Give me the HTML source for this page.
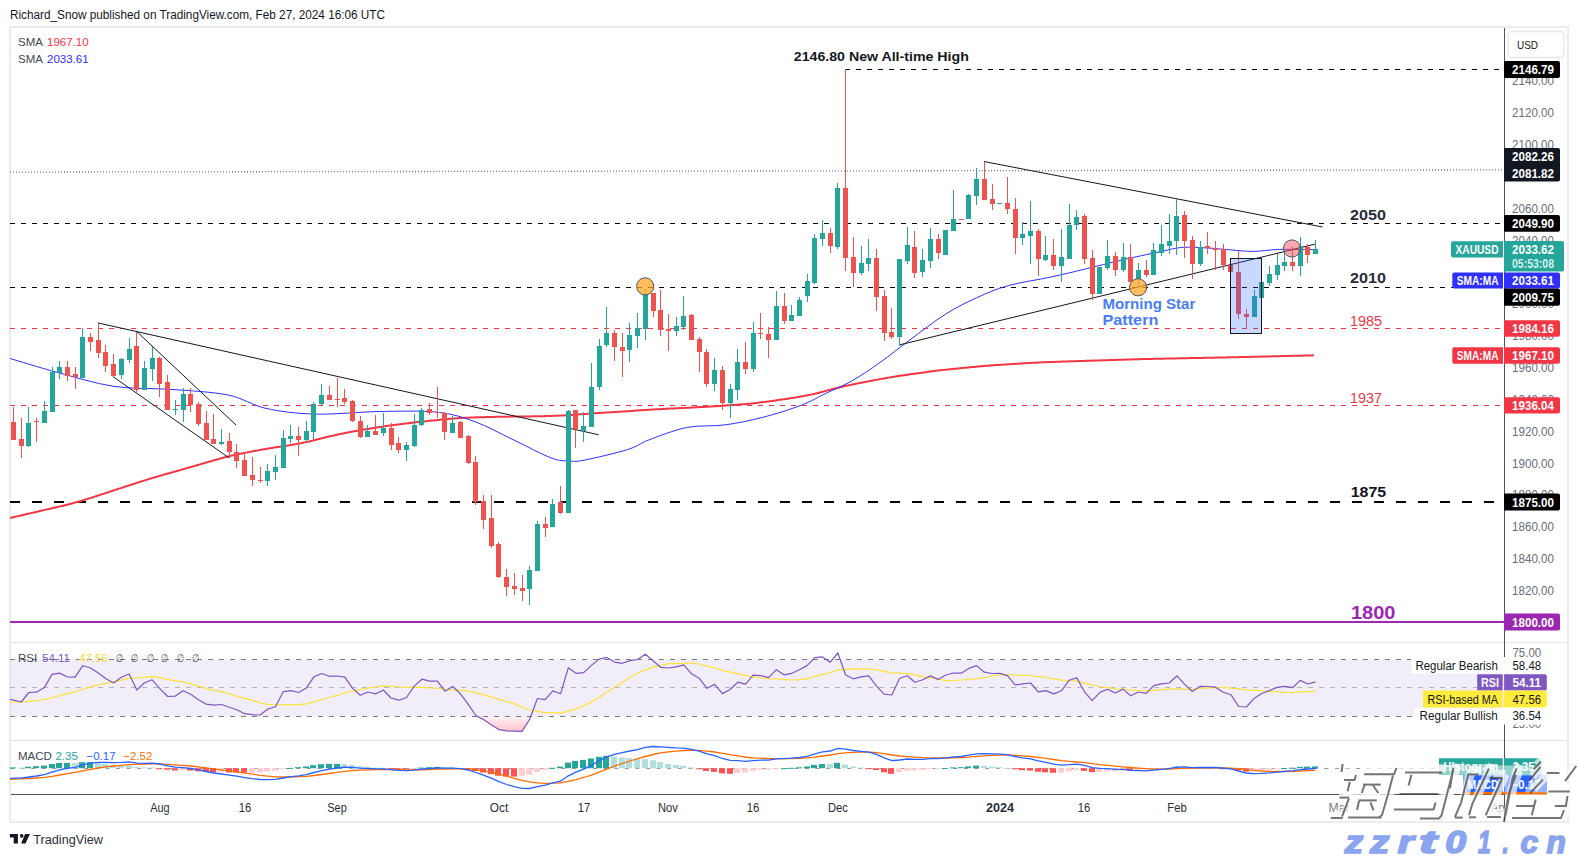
<!DOCTYPE html>
<html><head><meta charset="utf-8"><style>
html,body{margin:0;padding:0;background:#fff;width:1578px;height:857px;overflow:hidden}
svg{display:block;font-family:"Liberation Sans", sans-serif}
</style></head><body>
<svg width="1578" height="857" viewBox="0 0 1578 857">
<rect width="1578" height="857" fill="#fff"/>
<rect x="10" y="27" width="1558" height="795" fill="none" stroke="#eaecf1" stroke-width="2"/>
<text x="10" y="19" font-size="12.5" fill="#131722" font-weight="normal" text-anchor="start" textLength="375" lengthAdjust="spacingAndGlyphs">Richard_Snow published on TradingView.com, Feb 27, 2024 16:06 UTC</text>
<line x1="11" y1="642.5" x2="1567" y2="642.5" stroke="#e0e3eb" stroke-width="1"/>
<line x1="11" y1="740.5" x2="1567" y2="740.5" stroke="#e0e3eb" stroke-width="1"/>
<line x1="11" y1="794.5" x2="1504" y2="794.5" stroke="#50535e" stroke-width="1"/>
<defs><clipPath id="mp"><rect x="10" y="28" width="1494" height="614"/></clipPath><clipPath id="rp"><rect x="10" y="643" width="1494" height="97"/></clipPath><clipPath id="mc"><rect x="10" y="741" width="1494" height="53"/></clipPath><linearGradient id="os" x1="0" y1="0" x2="0" y2="1"><stop offset="0" stop-color="#ff1744" stop-opacity="0.05"/><stop offset="1" stop-color="#ff1744" stop-opacity="0.27"/></linearGradient></defs>
<g clip-path="url(#mp)">
<line x1="10" y1="172.1" x2="1504" y2="169.9" stroke="#787b86" stroke-width="1.3" stroke-dasharray="1 2"/>
<line x1="10" y1="223.5" x2="1504" y2="223.5" stroke="#000000" stroke-width="1" stroke-dasharray="5 6"/>
<line x1="10" y1="287.5" x2="1504" y2="287.5" stroke="#000000" stroke-width="1" stroke-dasharray="5 6"/>
<line x1="10" y1="328.5" x2="1504" y2="328.5" stroke="#f23645" stroke-width="1" stroke-dasharray="5 6"/>
<line x1="10" y1="405.5" x2="1504" y2="405.5" stroke="#f23645" stroke-width="1" stroke-dasharray="5 6"/>
<line x1="10" y1="502" x2="1504" y2="502" stroke="#000000" stroke-width="2" stroke-dasharray="10 12"/>
<line x1="10" y1="622" x2="1504" y2="622" stroke="#9c27b0" stroke-width="2"/>
<line x1="845" y1="69.5" x2="1504" y2="69.5" stroke="#000000" stroke-width="1" stroke-dasharray="5 6"/>
<path d="M10.0,518.00 L12.0,517.54 L14.0,517.07 L16.0,516.61 L18.0,516.15 L20.0,515.68 L22.0,515.22 L24.0,514.75 L26.0,514.29 L28.0,513.83 L30.0,513.36 L32.0,512.90 L34.0,512.44 L36.0,511.97 L38.0,511.51 L40.0,511.05 L42.0,510.58 L44.0,510.12 L46.0,509.65 L48.0,509.19 L50.0,508.73 L52.0,508.26 L54.0,507.80 L56.0,507.33 L58.0,506.86 L60.0,506.39 L62.0,505.91 L64.0,505.43 L66.0,504.94 L68.0,504.44 L70.0,503.93 L72.0,503.41 L74.0,502.88 L76.0,502.33 L78.0,501.76 L80.0,501.18 L82.0,500.59 L84.0,499.98 L86.0,499.37 L88.0,498.74 L90.0,498.11 L92.0,497.47 L94.0,496.83 L96.0,496.18 L98.0,495.53 L100.0,494.88 L102.0,494.23 L104.0,493.58 L106.0,492.93 L108.0,492.28 L110.0,491.63 L112.0,490.98 L114.0,490.32 L116.0,489.67 L118.0,489.02 L120.0,488.37 L122.0,487.72 L124.0,487.07 L126.0,486.42 L128.0,485.77 L130.0,485.12 L132.0,484.47 L134.0,483.82 L136.0,483.17 L138.0,482.53 L140.0,481.89 L142.0,481.26 L144.0,480.62 L146.0,480.00 L148.0,479.38 L150.0,478.77 L152.0,478.16 L154.0,477.56 L156.0,476.97 L158.0,476.38 L160.0,475.80 L162.0,475.22 L164.0,474.65 L166.0,474.08 L168.0,473.51 L170.0,472.94 L172.0,472.37 L174.0,471.80 L176.0,471.23 L178.0,470.67 L180.0,470.10 L182.0,469.53 L184.0,468.96 L186.0,468.39 L188.0,467.81 L190.0,467.24 L192.0,466.67 L194.0,466.09 L196.0,465.51 L198.0,464.94 L200.0,464.36 L202.0,463.78 L204.0,463.20 L206.0,462.62 L208.0,462.04 L210.0,461.46 L212.0,460.89 L214.0,460.32 L216.0,459.75 L218.0,459.19 L220.0,458.63 L222.0,458.09 L224.0,457.56 L226.0,457.04 L228.0,456.54 L230.0,456.05 L232.0,455.58 L234.0,455.12 L236.0,454.68 L238.0,454.25 L240.0,453.84 L242.0,453.43 L244.0,453.03 L246.0,452.64 L248.0,452.25 L250.0,451.86 L252.0,451.48 L254.0,451.10 L256.0,450.73 L258.0,450.36 L260.0,449.99 L262.0,449.63 L264.0,449.27 L266.0,448.92 L268.0,448.58 L270.0,448.24 L272.0,447.92 L274.0,447.59 L276.0,447.28 L278.0,446.97 L280.0,446.67 L282.0,446.37 L284.0,446.06 L286.0,445.76 L288.0,445.45 L290.0,445.13 L292.0,444.81 L294.0,444.47 L296.0,444.12 L298.0,443.75 L300.0,443.37 L302.0,442.97 L304.0,442.55 L306.0,442.12 L308.0,441.67 L310.0,441.21 L312.0,440.73 L314.0,440.25 L316.0,439.77 L318.0,439.28 L320.0,438.79 L322.0,438.29 L324.0,437.80 L326.0,437.31 L328.0,436.82 L330.0,436.34 L332.0,435.87 L334.0,435.41 L336.0,434.95 L338.0,434.51 L340.0,434.08 L342.0,433.66 L344.0,433.25 L346.0,432.85 L348.0,432.47 L350.0,432.09 L352.0,431.72 L354.0,431.35 L356.0,430.99 L358.0,430.64 L360.0,430.28 L362.0,429.93 L364.0,429.59 L366.0,429.24 L368.0,428.90 L370.0,428.56 L372.0,428.23 L374.0,427.90 L376.0,427.58 L378.0,427.27 L380.0,426.97 L382.0,426.67 L384.0,426.38 L386.0,426.10 L388.0,425.83 L390.0,425.56 L392.0,425.30 L394.0,425.04 L396.0,424.78 L398.0,424.53 L400.0,424.27 L402.0,424.02 L404.0,423.77 L406.0,423.53 L408.0,423.28 L410.0,423.04 L412.0,422.80 L414.0,422.56 L416.0,422.33 L418.0,422.10 L420.0,421.87 L422.0,421.65 L424.0,421.43 L426.0,421.22 L428.0,421.01 L430.0,420.80 L432.0,420.59 L434.0,420.39 L436.0,420.19 L438.0,419.99 L440.0,419.79 L442.0,419.60 L444.0,419.40 L446.0,419.21 L448.0,419.03 L450.0,418.85 L452.0,418.68 L454.0,418.51 L456.0,418.36 L458.0,418.21 L460.0,418.08 L462.0,417.96 L464.0,417.85 L466.0,417.75 L468.0,417.66 L470.0,417.58 L472.0,417.50 L474.0,417.43 L476.0,417.36 L478.0,417.30 L480.0,417.24 L482.0,417.19 L484.0,417.13 L486.0,417.08 L488.0,417.02 L490.0,416.97 L492.0,416.92 L494.0,416.88 L496.0,416.83 L498.0,416.79 L500.0,416.75 L502.0,416.72 L504.0,416.69 L506.0,416.66 L508.0,416.63 L510.0,416.61 L512.0,416.58 L514.0,416.56 L516.0,416.54 L518.0,416.52 L520.0,416.50 L522.0,416.47 L524.0,416.45 L526.0,416.43 L528.0,416.41 L530.0,416.39 L532.0,416.36 L534.0,416.33 L536.0,416.30 L538.0,416.27 L540.0,416.24 L542.0,416.20 L544.0,416.16 L546.0,416.11 L548.0,416.06 L550.0,416.00 L552.0,415.94 L554.0,415.87 L556.0,415.79 L558.0,415.71 L560.0,415.61 L562.0,415.51 L564.0,415.40 L566.0,415.28 L568.0,415.15 L570.0,415.02 L572.0,414.89 L574.0,414.75 L576.0,414.60 L578.0,414.46 L580.0,414.32 L582.0,414.17 L584.0,414.03 L586.0,413.89 L588.0,413.75 L590.0,413.61 L592.0,413.48 L594.0,413.35 L596.0,413.22 L598.0,413.09 L600.0,412.96 L602.0,412.84 L604.0,412.72 L606.0,412.59 L608.0,412.47 L610.0,412.35 L612.0,412.23 L614.0,412.10 L616.0,411.97 L618.0,411.85 L620.0,411.72 L622.0,411.58 L624.0,411.45 L626.0,411.31 L628.0,411.17 L630.0,411.04 L632.0,410.90 L634.0,410.76 L636.0,410.62 L638.0,410.49 L640.0,410.35 L642.0,410.22 L644.0,410.09 L646.0,409.96 L648.0,409.84 L650.0,409.71 L652.0,409.59 L654.0,409.47 L656.0,409.36 L658.0,409.25 L660.0,409.13 L662.0,409.02 L664.0,408.92 L666.0,408.81 L668.0,408.71 L670.0,408.60 L672.0,408.50 L674.0,408.40 L676.0,408.31 L678.0,408.21 L680.0,408.11 L682.0,408.02 L684.0,407.92 L686.0,407.83 L688.0,407.73 L690.0,407.63 L692.0,407.53 L694.0,407.43 L696.0,407.33 L698.0,407.22 L700.0,407.12 L702.0,407.00 L704.0,406.89 L706.0,406.77 L708.0,406.65 L710.0,406.52 L712.0,406.40 L714.0,406.27 L716.0,406.14 L718.0,406.01 L720.0,405.88 L722.0,405.75 L724.0,405.61 L726.0,405.48 L728.0,405.35 L730.0,405.21 L732.0,405.08 L734.0,404.94 L736.0,404.80 L738.0,404.65 L740.0,404.50 L742.0,404.35 L744.0,404.18 L746.0,404.01 L748.0,403.82 L750.0,403.63 L752.0,403.42 L754.0,403.21 L756.0,402.98 L758.0,402.75 L760.0,402.50 L762.0,402.25 L764.0,402.00 L766.0,401.74 L768.0,401.47 L770.0,401.21 L772.0,400.94 L774.0,400.67 L776.0,400.39 L778.0,400.11 L780.0,399.83 L782.0,399.55 L784.0,399.26 L786.0,398.96 L788.0,398.66 L790.0,398.35 L792.0,398.04 L794.0,397.72 L796.0,397.39 L798.0,397.06 L800.0,396.71 L802.0,396.35 L804.0,395.99 L806.0,395.60 L808.0,395.21 L810.0,394.79 L812.0,394.36 L814.0,393.91 L816.0,393.44 L818.0,392.95 L820.0,392.45 L822.0,391.93 L824.0,391.40 L826.0,390.87 L828.0,390.33 L830.0,389.79 L832.0,389.26 L834.0,388.73 L836.0,388.22 L838.0,387.71 L840.0,387.22 L842.0,386.75 L844.0,386.29 L846.0,385.84 L848.0,385.41 L850.0,384.98 L852.0,384.57 L854.0,384.16 L856.0,383.76 L858.0,383.37 L860.0,382.97 L862.0,382.58 L864.0,382.19 L866.0,381.81 L868.0,381.42 L870.0,381.03 L872.0,380.65 L874.0,380.27 L876.0,379.89 L878.0,379.51 L880.0,379.14 L882.0,378.77 L884.0,378.41 L886.0,378.05 L888.0,377.70 L890.0,377.37 L892.0,377.04 L894.0,376.71 L896.0,376.40 L898.0,376.09 L900.0,375.79 L902.0,375.50 L904.0,375.21 L906.0,374.92 L908.0,374.64 L910.0,374.36 L912.0,374.08 L914.0,373.80 L916.0,373.52 L918.0,373.24 L920.0,372.96 L922.0,372.68 L924.0,372.41 L926.0,372.14 L928.0,371.86 L930.0,371.60 L932.0,371.33 L934.0,371.07 L936.0,370.82 L938.0,370.57 L940.0,370.33 L942.0,370.10 L944.0,369.87 L946.0,369.65 L948.0,369.44 L950.0,369.23 L952.0,369.02 L954.0,368.82 L956.0,368.63 L958.0,368.43 L960.0,368.24 L962.0,368.04 L964.0,367.85 L966.0,367.66 L968.0,367.47 L970.0,367.28 L972.0,367.09 L974.0,366.90 L976.0,366.71 L978.0,366.52 L980.0,366.34 L982.0,366.16 L984.0,365.99 L986.0,365.82 L988.0,365.65 L990.0,365.49 L992.0,365.34 L994.0,365.19 L996.0,365.04 L998.0,364.91 L1000.0,364.77 L1002.0,364.64 L1004.0,364.51 L1006.0,364.39 L1008.0,364.27 L1010.0,364.14 L1012.0,364.02 L1014.0,363.90 L1016.0,363.78 L1018.0,363.66 L1020.0,363.54 L1022.0,363.43 L1024.0,363.31 L1026.0,363.19 L1028.0,363.08 L1030.0,362.97 L1032.0,362.85 L1034.0,362.75 L1036.0,362.64 L1038.0,362.54 L1040.0,362.45 L1042.0,362.36 L1044.0,362.27 L1046.0,362.19 L1048.0,362.11 L1050.0,362.03 L1052.0,361.96 L1054.0,361.89 L1056.0,361.82 L1058.0,361.76 L1060.0,361.69 L1062.0,361.62 L1064.0,361.56 L1066.0,361.50 L1068.0,361.43 L1070.0,361.37 L1072.0,361.30 L1074.0,361.24 L1076.0,361.18 L1078.0,361.11 L1080.0,361.05 L1082.0,360.98 L1084.0,360.92 L1086.0,360.86 L1088.0,360.79 L1090.0,360.73 L1092.0,360.66 L1094.0,360.60 L1096.0,360.54 L1098.0,360.47 L1100.0,360.41 L1102.0,360.35 L1104.0,360.28 L1106.0,360.22 L1108.0,360.15 L1110.0,360.09 L1112.0,360.03 L1114.0,359.96 L1116.0,359.90 L1118.0,359.83 L1120.0,359.77 L1122.0,359.71 L1124.0,359.65 L1126.0,359.58 L1128.0,359.52 L1130.0,359.46 L1132.0,359.40 L1134.0,359.34 L1136.0,359.28 L1138.0,359.23 L1140.0,359.17 L1142.0,359.12 L1144.0,359.07 L1146.0,359.02 L1148.0,358.98 L1150.0,358.93 L1152.0,358.89 L1154.0,358.85 L1156.0,358.80 L1158.0,358.76 L1160.0,358.72 L1162.0,358.68 L1164.0,358.64 L1166.0,358.60 L1168.0,358.56 L1170.0,358.52 L1172.0,358.48 L1174.0,358.44 L1176.0,358.40 L1178.0,358.36 L1180.0,358.32 L1182.0,358.28 L1184.0,358.24 L1186.0,358.20 L1188.0,358.16 L1190.0,358.12 L1192.0,358.08 L1194.0,358.04 L1196.0,358.00 L1198.0,357.96 L1200.0,357.92 L1202.0,357.88 L1204.0,357.85 L1206.0,357.81 L1208.0,357.77 L1210.0,357.73 L1212.0,357.69 L1214.0,357.65 L1216.0,357.61 L1218.0,357.57 L1220.0,357.53 L1222.0,357.49 L1224.0,357.45 L1226.0,357.41 L1228.0,357.37 L1230.0,357.32 L1232.0,357.28 L1234.0,357.24 L1236.0,357.20 L1238.0,357.16 L1240.0,357.11 L1242.0,357.07 L1244.0,357.02 L1246.0,356.98 L1248.0,356.93 L1250.0,356.89 L1252.0,356.84 L1254.0,356.79 L1256.0,356.74 L1258.0,356.70 L1260.0,356.65 L1262.0,356.60 L1264.0,356.55 L1266.0,356.50 L1268.0,356.45 L1270.0,356.41 L1272.0,356.36 L1274.0,356.31 L1276.0,356.26 L1278.0,356.21 L1280.0,356.16 L1282.0,356.12 L1284.0,356.07 L1286.0,356.02 L1288.0,355.97 L1290.0,355.92 L1292.0,355.87 L1294.0,355.82 L1296.0,355.78 L1298.0,355.73 L1300.0,355.68 L1302.0,355.63 L1304.0,355.58 L1306.0,355.53 L1308.0,355.48 L1310.0,355.44 L1312.0,355.39 L1314.0,355.34" fill="none" stroke="#f23645" stroke-width="2"/>
<path d="M9.5,358.3 C17.4,360.6 39.6,367.6 57.0,372.3 C74.4,377.0 95.0,383.5 114.0,386.4 C133.0,389.2 152.0,388.0 171.0,389.4 C190.0,390.8 212.2,391.8 228.0,395.0 C243.8,398.2 251.4,405.2 266.0,408.4 C280.6,411.6 296.6,413.6 315.6,414.1 C334.6,414.6 359.8,411.8 380.0,411.5 C400.2,411.2 421.2,410.5 437.0,412.2 C452.8,413.9 462.3,417.1 475.0,421.7 C487.7,426.3 500.3,433.6 513.0,439.6 C525.7,445.6 541.5,454.3 551.0,457.9 C560.5,461.5 564.3,460.6 570.0,461.0 C575.7,461.4 575.4,461.9 585.0,460.0 C594.6,458.1 616.9,452.9 627.5,449.6 C638.1,446.3 638.8,443.7 648.7,440.0 C658.6,436.3 674.0,430.0 686.7,427.5 C699.4,425.0 712.1,426.6 724.8,424.9 C737.5,423.2 750.1,420.6 762.8,417.3 C775.5,414.1 790.2,409.4 800.8,405.4 C811.4,401.4 817.8,397.2 826.2,393.2 C834.7,389.1 842.5,386.2 851.5,381.1 C860.5,376.0 870.3,369.4 880.0,362.5 C889.7,355.6 898.9,348.1 909.8,340.0 C920.7,331.9 934.4,321.2 945.6,314.1 C956.8,307.0 966.5,302.4 977.0,297.6 C987.5,292.9 995.9,289.0 1008.3,285.6 C1020.6,282.2 1038.3,279.8 1051.1,277.0 C1063.9,274.2 1073.4,271.9 1085.3,269.0 C1097.2,266.1 1110.1,262.8 1122.4,259.9 C1134.8,257.0 1149.4,254.0 1159.4,251.9 C1169.4,249.8 1174.2,248.1 1182.3,247.4 C1190.4,246.8 1199.8,247.6 1207.9,248.0 C1216.0,248.4 1223.1,249.3 1230.7,249.9 C1238.3,250.5 1245.4,251.5 1253.5,251.4 C1261.6,251.3 1268.7,249.7 1279.2,249.4 C1289.7,249.1 1310.1,249.6 1316.3,249.6" fill="none" stroke="#2f2fff" stroke-width="1"/>
<line x1="97.8" y1="322.9" x2="598.7" y2="434.8" stroke="#131722" stroke-width="1"/>
<line x1="136.7" y1="331.5" x2="236.2" y2="425.2" stroke="#131722" stroke-width="1"/>
<line x1="112.7" y1="376.4" x2="228.8" y2="457.7" stroke="#131722" stroke-width="1"/>
<line x1="983.9" y1="161.5" x2="1322.5" y2="227" stroke="#131722" stroke-width="1"/>
<line x1="899.4" y1="344.9" x2="1314.8" y2="244.2" stroke="#131722" stroke-width="1"/>
<rect x="13" y="407" width="1" height="33" fill="#ef5350"/>
<rect x="11" y="422" width="5" height="18" fill="#ef5350"/>
<rect x="21" y="418" width="1" height="40" fill="#ef5350"/>
<rect x="19" y="439" width="5" height="7" fill="#ef5350"/>
<rect x="28" y="407" width="1" height="40" fill="#26a69a"/>
<rect x="26" y="423" width="5" height="23" fill="#26a69a"/>
<rect x="36" y="418" width="1" height="24" fill="#ef5350"/>
<rect x="34" y="421" width="5" height="1" fill="#ef5350"/>
<rect x="44" y="401" width="1" height="22" fill="#26a69a"/>
<rect x="42" y="411" width="5" height="12" fill="#26a69a"/>
<rect x="52" y="367" width="1" height="45" fill="#26a69a"/>
<rect x="50" y="372" width="5" height="40" fill="#26a69a"/>
<rect x="59" y="361" width="1" height="18" fill="#26a69a"/>
<rect x="57" y="367" width="5" height="6" fill="#26a69a"/>
<rect x="67" y="361" width="1" height="20" fill="#ef5350"/>
<rect x="65" y="367" width="5" height="9" fill="#ef5350"/>
<rect x="75" y="367" width="1" height="22" fill="#ef5350"/>
<rect x="73" y="374" width="5" height="3" fill="#ef5350"/>
<rect x="82" y="328" width="1" height="50" fill="#26a69a"/>
<rect x="80" y="337" width="5" height="41" fill="#26a69a"/>
<rect x="90" y="333" width="1" height="18" fill="#ef5350"/>
<rect x="88" y="337" width="5" height="5" fill="#ef5350"/>
<rect x="98" y="323" width="1" height="35" fill="#ef5350"/>
<rect x="96" y="340" width="5" height="13" fill="#ef5350"/>
<rect x="105" y="345" width="1" height="27" fill="#ef5350"/>
<rect x="103" y="352" width="5" height="14" fill="#ef5350"/>
<rect x="113" y="354" width="1" height="22" fill="#ef5350"/>
<rect x="111" y="364" width="5" height="12" fill="#ef5350"/>
<rect x="121" y="358" width="1" height="21" fill="#26a69a"/>
<rect x="119" y="359" width="5" height="16" fill="#26a69a"/>
<rect x="129" y="338" width="1" height="25" fill="#26a69a"/>
<rect x="127" y="349" width="5" height="11" fill="#26a69a"/>
<rect x="136" y="332" width="1" height="61" fill="#ef5350"/>
<rect x="134" y="346" width="5" height="44" fill="#ef5350"/>
<rect x="144" y="361" width="1" height="29" fill="#26a69a"/>
<rect x="142" y="368" width="5" height="22" fill="#26a69a"/>
<rect x="152" y="347" width="1" height="34" fill="#26a69a"/>
<rect x="150" y="358" width="5" height="11" fill="#26a69a"/>
<rect x="159" y="357" width="1" height="40" fill="#ef5350"/>
<rect x="157" y="358" width="5" height="26" fill="#ef5350"/>
<rect x="167" y="375" width="1" height="35" fill="#ef5350"/>
<rect x="165" y="382" width="5" height="28" fill="#ef5350"/>
<rect x="175" y="400" width="1" height="15" fill="#26a69a"/>
<rect x="173" y="409" width="5" height="1" fill="#26a69a"/>
<rect x="183" y="388" width="1" height="34" fill="#26a69a"/>
<rect x="181" y="394" width="5" height="16" fill="#26a69a"/>
<rect x="190" y="388" width="1" height="24" fill="#ef5350"/>
<rect x="188" y="394" width="5" height="11" fill="#ef5350"/>
<rect x="198" y="402" width="1" height="24" fill="#ef5350"/>
<rect x="196" y="404" width="5" height="20" fill="#ef5350"/>
<rect x="206" y="411" width="1" height="29" fill="#ef5350"/>
<rect x="204" y="423" width="5" height="17" fill="#ef5350"/>
<rect x="213" y="414" width="1" height="30" fill="#ef5350"/>
<rect x="211" y="439" width="5" height="5" fill="#ef5350"/>
<rect x="221" y="429" width="1" height="16" fill="#26a69a"/>
<rect x="219" y="442" width="5" height="2" fill="#26a69a"/>
<rect x="229" y="433" width="1" height="25" fill="#ef5350"/>
<rect x="227" y="441" width="5" height="11" fill="#ef5350"/>
<rect x="236" y="444" width="1" height="24" fill="#ef5350"/>
<rect x="234" y="452" width="5" height="9" fill="#ef5350"/>
<rect x="244" y="452" width="1" height="24" fill="#ef5350"/>
<rect x="242" y="460" width="5" height="16" fill="#ef5350"/>
<rect x="252" y="457" width="1" height="29" fill="#ef5350"/>
<rect x="250" y="475" width="5" height="5" fill="#ef5350"/>
<rect x="260" y="467" width="1" height="16" fill="#ef5350"/>
<rect x="258" y="480" width="5" height="1" fill="#ef5350"/>
<rect x="267" y="464" width="1" height="22" fill="#26a69a"/>
<rect x="265" y="471" width="5" height="10" fill="#26a69a"/>
<rect x="275" y="455" width="1" height="25" fill="#26a69a"/>
<rect x="273" y="467" width="5" height="5" fill="#26a69a"/>
<rect x="283" y="430" width="1" height="38" fill="#26a69a"/>
<rect x="281" y="438" width="5" height="30" fill="#26a69a"/>
<rect x="290" y="425" width="1" height="18" fill="#26a69a"/>
<rect x="288" y="436" width="5" height="3" fill="#26a69a"/>
<rect x="298" y="427" width="1" height="29" fill="#ef5350"/>
<rect x="296" y="436" width="5" height="4" fill="#ef5350"/>
<rect x="306" y="421" width="1" height="21" fill="#26a69a"/>
<rect x="304" y="431" width="5" height="9" fill="#26a69a"/>
<rect x="313" y="402" width="1" height="37" fill="#26a69a"/>
<rect x="311" y="404" width="5" height="28" fill="#26a69a"/>
<rect x="321" y="384" width="1" height="21" fill="#26a69a"/>
<rect x="319" y="395" width="5" height="9" fill="#26a69a"/>
<rect x="329" y="386" width="1" height="14" fill="#ef5350"/>
<rect x="327" y="395" width="5" height="5" fill="#ef5350"/>
<rect x="337" y="378" width="1" height="29" fill="#ef5350"/>
<rect x="335" y="399" width="5" height="1" fill="#ef5350"/>
<rect x="344" y="389" width="1" height="15" fill="#ef5350"/>
<rect x="342" y="398" width="5" height="4" fill="#ef5350"/>
<rect x="352" y="400" width="1" height="22" fill="#ef5350"/>
<rect x="350" y="401" width="5" height="20" fill="#ef5350"/>
<rect x="360" y="416" width="1" height="22" fill="#ef5350"/>
<rect x="358" y="421" width="5" height="16" fill="#ef5350"/>
<rect x="367" y="425" width="1" height="12" fill="#26a69a"/>
<rect x="365" y="431" width="5" height="6" fill="#26a69a"/>
<rect x="375" y="415" width="1" height="20" fill="#ef5350"/>
<rect x="373" y="431" width="5" height="4" fill="#ef5350"/>
<rect x="383" y="413" width="1" height="23" fill="#26a69a"/>
<rect x="381" y="428" width="5" height="5" fill="#26a69a"/>
<rect x="391" y="423" width="1" height="27" fill="#ef5350"/>
<rect x="389" y="428" width="5" height="17" fill="#ef5350"/>
<rect x="398" y="437" width="1" height="16" fill="#ef5350"/>
<rect x="396" y="443" width="5" height="7" fill="#ef5350"/>
<rect x="406" y="442" width="1" height="19" fill="#26a69a"/>
<rect x="404" y="445" width="5" height="5" fill="#26a69a"/>
<rect x="414" y="414" width="1" height="33" fill="#26a69a"/>
<rect x="412" y="425" width="5" height="21" fill="#26a69a"/>
<rect x="421" y="408" width="1" height="18" fill="#26a69a"/>
<rect x="419" y="410" width="5" height="15" fill="#26a69a"/>
<rect x="429" y="403" width="1" height="12" fill="#ef5350"/>
<rect x="427" y="409" width="5" height="4" fill="#ef5350"/>
<rect x="437" y="387" width="1" height="31" fill="#ef5350"/>
<rect x="435" y="412" width="5" height="1" fill="#ef5350"/>
<rect x="444" y="412" width="1" height="28" fill="#ef5350"/>
<rect x="442" y="413" width="5" height="19" fill="#ef5350"/>
<rect x="452" y="416" width="1" height="17" fill="#26a69a"/>
<rect x="450" y="423" width="5" height="10" fill="#26a69a"/>
<rect x="460" y="421" width="1" height="17" fill="#ef5350"/>
<rect x="458" y="422" width="5" height="16" fill="#ef5350"/>
<rect x="468" y="435" width="1" height="29" fill="#ef5350"/>
<rect x="466" y="436" width="5" height="27" fill="#ef5350"/>
<rect x="475" y="456" width="1" height="49" fill="#ef5350"/>
<rect x="473" y="462" width="5" height="40" fill="#ef5350"/>
<rect x="483" y="495" width="1" height="34" fill="#ef5350"/>
<rect x="481" y="501" width="5" height="19" fill="#ef5350"/>
<rect x="491" y="495" width="1" height="53" fill="#ef5350"/>
<rect x="489" y="518" width="5" height="28" fill="#ef5350"/>
<rect x="498" y="542" width="1" height="36" fill="#ef5350"/>
<rect x="496" y="544" width="5" height="33" fill="#ef5350"/>
<rect x="506" y="569" width="1" height="27" fill="#ef5350"/>
<rect x="504" y="577" width="5" height="10" fill="#ef5350"/>
<rect x="514" y="573" width="1" height="22" fill="#ef5350"/>
<rect x="512" y="586" width="5" height="3" fill="#ef5350"/>
<rect x="522" y="575" width="1" height="26" fill="#ef5350"/>
<rect x="520" y="588" width="5" height="3" fill="#ef5350"/>
<rect x="529" y="566" width="1" height="39" fill="#26a69a"/>
<rect x="527" y="570" width="5" height="19" fill="#26a69a"/>
<rect x="537" y="521" width="1" height="50" fill="#26a69a"/>
<rect x="535" y="524" width="5" height="47" fill="#26a69a"/>
<rect x="545" y="517" width="1" height="20" fill="#ef5350"/>
<rect x="543" y="524" width="5" height="4" fill="#ef5350"/>
<rect x="552" y="499" width="1" height="28" fill="#26a69a"/>
<rect x="550" y="504" width="5" height="23" fill="#26a69a"/>
<rect x="560" y="486" width="1" height="28" fill="#ef5350"/>
<rect x="558" y="502" width="5" height="11" fill="#ef5350"/>
<rect x="568" y="410" width="1" height="103" fill="#26a69a"/>
<rect x="566" y="411" width="5" height="102" fill="#26a69a"/>
<rect x="575" y="410" width="1" height="38" fill="#ef5350"/>
<rect x="573" y="410" width="5" height="19" fill="#ef5350"/>
<rect x="583" y="412" width="1" height="30" fill="#26a69a"/>
<rect x="581" y="426" width="5" height="5" fill="#26a69a"/>
<rect x="591" y="363" width="1" height="64" fill="#26a69a"/>
<rect x="589" y="387" width="5" height="40" fill="#26a69a"/>
<rect x="599" y="339" width="1" height="51" fill="#26a69a"/>
<rect x="597" y="346" width="5" height="41" fill="#26a69a"/>
<rect x="606" y="307" width="1" height="40" fill="#26a69a"/>
<rect x="604" y="333" width="5" height="12" fill="#26a69a"/>
<rect x="614" y="330" width="1" height="31" fill="#ef5350"/>
<rect x="612" y="333" width="5" height="14" fill="#ef5350"/>
<rect x="622" y="333" width="1" height="44" fill="#ef5350"/>
<rect x="620" y="347" width="5" height="4" fill="#ef5350"/>
<rect x="629" y="323" width="1" height="39" fill="#26a69a"/>
<rect x="627" y="335" width="5" height="15" fill="#26a69a"/>
<rect x="637" y="313" width="1" height="35" fill="#26a69a"/>
<rect x="635" y="328" width="5" height="8" fill="#26a69a"/>
<rect x="645" y="289" width="1" height="51" fill="#26a69a"/>
<rect x="643" y="294" width="5" height="35" fill="#26a69a"/>
<rect x="653" y="293" width="1" height="24" fill="#ef5350"/>
<rect x="651" y="293" width="5" height="18" fill="#ef5350"/>
<rect x="660" y="290" width="1" height="46" fill="#ef5350"/>
<rect x="658" y="310" width="5" height="20" fill="#ef5350"/>
<rect x="668" y="314" width="1" height="37" fill="#ef5350"/>
<rect x="666" y="329" width="5" height="2" fill="#ef5350"/>
<rect x="676" y="317" width="1" height="19" fill="#26a69a"/>
<rect x="674" y="326" width="5" height="5" fill="#26a69a"/>
<rect x="683" y="296" width="1" height="34" fill="#26a69a"/>
<rect x="681" y="316" width="5" height="11" fill="#26a69a"/>
<rect x="691" y="314" width="1" height="26" fill="#ef5350"/>
<rect x="689" y="315" width="5" height="25" fill="#ef5350"/>
<rect x="699" y="337" width="1" height="35" fill="#ef5350"/>
<rect x="697" y="339" width="5" height="13" fill="#ef5350"/>
<rect x="706" y="349" width="1" height="38" fill="#ef5350"/>
<rect x="704" y="352" width="5" height="32" fill="#ef5350"/>
<rect x="714" y="358" width="1" height="33" fill="#26a69a"/>
<rect x="712" y="370" width="5" height="14" fill="#26a69a"/>
<rect x="722" y="366" width="1" height="44" fill="#ef5350"/>
<rect x="720" y="370" width="5" height="33" fill="#ef5350"/>
<rect x="730" y="384" width="1" height="34" fill="#26a69a"/>
<rect x="728" y="389" width="5" height="14" fill="#26a69a"/>
<rect x="737" y="349" width="1" height="51" fill="#26a69a"/>
<rect x="735" y="362" width="5" height="28" fill="#26a69a"/>
<rect x="745" y="342" width="1" height="32" fill="#ef5350"/>
<rect x="743" y="362" width="5" height="7" fill="#ef5350"/>
<rect x="753" y="322" width="1" height="50" fill="#26a69a"/>
<rect x="751" y="333" width="5" height="36" fill="#26a69a"/>
<rect x="760" y="313" width="1" height="26" fill="#ef5350"/>
<rect x="758" y="333" width="5" height="1" fill="#ef5350"/>
<rect x="768" y="327" width="1" height="31" fill="#ef5350"/>
<rect x="766" y="334" width="5" height="6" fill="#ef5350"/>
<rect x="776" y="291" width="1" height="49" fill="#26a69a"/>
<rect x="774" y="306" width="5" height="34" fill="#26a69a"/>
<rect x="784" y="293" width="1" height="31" fill="#ef5350"/>
<rect x="782" y="306" width="5" height="15" fill="#ef5350"/>
<rect x="791" y="305" width="1" height="16" fill="#26a69a"/>
<rect x="789" y="315" width="5" height="6" fill="#26a69a"/>
<rect x="799" y="297" width="1" height="19" fill="#26a69a"/>
<rect x="797" y="300" width="5" height="16" fill="#26a69a"/>
<rect x="807" y="274" width="1" height="28" fill="#26a69a"/>
<rect x="805" y="281" width="5" height="15" fill="#26a69a"/>
<rect x="814" y="234" width="1" height="50" fill="#26a69a"/>
<rect x="812" y="238" width="5" height="45" fill="#26a69a"/>
<rect x="822" y="220" width="1" height="26" fill="#26a69a"/>
<rect x="820" y="233" width="5" height="6" fill="#26a69a"/>
<rect x="830" y="228" width="1" height="25" fill="#ef5350"/>
<rect x="828" y="233" width="5" height="13" fill="#ef5350"/>
<rect x="837" y="183" width="1" height="66" fill="#26a69a"/>
<rect x="835" y="188" width="5" height="59" fill="#26a69a"/>
<rect x="845" y="69" width="1" height="202" fill="#ef5350"/>
<rect x="843" y="188" width="5" height="70" fill="#ef5350"/>
<rect x="853" y="237" width="1" height="50" fill="#ef5350"/>
<rect x="851" y="257" width="5" height="16" fill="#ef5350"/>
<rect x="861" y="246" width="1" height="29" fill="#26a69a"/>
<rect x="859" y="263" width="5" height="10" fill="#26a69a"/>
<rect x="868" y="239" width="1" height="32" fill="#26a69a"/>
<rect x="866" y="258" width="5" height="6" fill="#26a69a"/>
<rect x="876" y="249" width="1" height="62" fill="#ef5350"/>
<rect x="874" y="258" width="5" height="39" fill="#ef5350"/>
<rect x="884" y="290" width="1" height="51" fill="#ef5350"/>
<rect x="882" y="296" width="5" height="37" fill="#ef5350"/>
<rect x="891" y="308" width="1" height="31" fill="#ef5350"/>
<rect x="889" y="332" width="5" height="5" fill="#ef5350"/>
<rect x="899" y="259" width="1" height="87" fill="#26a69a"/>
<rect x="897" y="259" width="5" height="78" fill="#26a69a"/>
<rect x="907" y="227" width="1" height="37" fill="#26a69a"/>
<rect x="905" y="245" width="5" height="16" fill="#26a69a"/>
<rect x="914" y="231" width="1" height="47" fill="#ef5350"/>
<rect x="912" y="247" width="5" height="26" fill="#ef5350"/>
<rect x="922" y="249" width="1" height="28" fill="#26a69a"/>
<rect x="920" y="260" width="5" height="12" fill="#26a69a"/>
<rect x="930" y="228" width="1" height="40" fill="#26a69a"/>
<rect x="928" y="239" width="5" height="22" fill="#26a69a"/>
<rect x="938" y="234" width="1" height="25" fill="#ef5350"/>
<rect x="936" y="239" width="5" height="14" fill="#ef5350"/>
<rect x="945" y="230" width="1" height="25" fill="#26a69a"/>
<rect x="943" y="230" width="5" height="25" fill="#26a69a"/>
<rect x="953" y="190" width="1" height="41" fill="#26a69a"/>
<rect x="951" y="219" width="5" height="12" fill="#26a69a"/>
<rect x="961" y="219" width="1" height="1" fill="#ef5350"/>
<rect x="959" y="219" width="5" height="1" fill="#ef5350"/>
<rect x="968" y="194" width="1" height="25" fill="#26a69a"/>
<rect x="966" y="195" width="5" height="24" fill="#26a69a"/>
<rect x="976" y="168" width="1" height="37" fill="#26a69a"/>
<rect x="974" y="179" width="5" height="17" fill="#26a69a"/>
<rect x="984" y="162" width="1" height="38" fill="#ef5350"/>
<rect x="982" y="179" width="5" height="21" fill="#ef5350"/>
<rect x="992" y="184" width="1" height="26" fill="#ef5350"/>
<rect x="990" y="199" width="5" height="5" fill="#ef5350"/>
<rect x="999" y="203" width="1" height="1" fill="#26a69a"/>
<rect x="997" y="203" width="5" height="1" fill="#26a69a"/>
<rect x="1007" y="177" width="1" height="37" fill="#ef5350"/>
<rect x="1005" y="203" width="5" height="6" fill="#ef5350"/>
<rect x="1015" y="198" width="1" height="56" fill="#ef5350"/>
<rect x="1013" y="209" width="5" height="29" fill="#ef5350"/>
<rect x="1022" y="222" width="1" height="23" fill="#26a69a"/>
<rect x="1020" y="234" width="5" height="4" fill="#26a69a"/>
<rect x="1030" y="201" width="1" height="63" fill="#26a69a"/>
<rect x="1028" y="231" width="5" height="5" fill="#26a69a"/>
<rect x="1038" y="229" width="1" height="47" fill="#ef5350"/>
<rect x="1036" y="231" width="5" height="28" fill="#ef5350"/>
<rect x="1045" y="236" width="1" height="25" fill="#26a69a"/>
<rect x="1043" y="255" width="5" height="5" fill="#26a69a"/>
<rect x="1053" y="239" width="1" height="31" fill="#ef5350"/>
<rect x="1051" y="255" width="5" height="11" fill="#ef5350"/>
<rect x="1061" y="229" width="1" height="53" fill="#26a69a"/>
<rect x="1059" y="257" width="5" height="9" fill="#26a69a"/>
<rect x="1069" y="204" width="1" height="55" fill="#26a69a"/>
<rect x="1067" y="225" width="5" height="34" fill="#26a69a"/>
<rect x="1076" y="210" width="1" height="20" fill="#26a69a"/>
<rect x="1074" y="217" width="5" height="8" fill="#26a69a"/>
<rect x="1084" y="214" width="1" height="50" fill="#ef5350"/>
<rect x="1082" y="216" width="5" height="43" fill="#ef5350"/>
<rect x="1092" y="250" width="1" height="50" fill="#ef5350"/>
<rect x="1090" y="258" width="5" height="36" fill="#ef5350"/>
<rect x="1099" y="267" width="1" height="27" fill="#26a69a"/>
<rect x="1097" y="267" width="5" height="27" fill="#26a69a"/>
<rect x="1107" y="240" width="1" height="30" fill="#26a69a"/>
<rect x="1105" y="256" width="5" height="12" fill="#26a69a"/>
<rect x="1115" y="252" width="1" height="24" fill="#ef5350"/>
<rect x="1113" y="256" width="5" height="14" fill="#ef5350"/>
<rect x="1123" y="243" width="1" height="29" fill="#26a69a"/>
<rect x="1121" y="257" width="5" height="13" fill="#26a69a"/>
<rect x="1130" y="244" width="1" height="38" fill="#ef5350"/>
<rect x="1128" y="257" width="5" height="25" fill="#ef5350"/>
<rect x="1138" y="263" width="1" height="24" fill="#26a69a"/>
<rect x="1136" y="270" width="5" height="9" fill="#26a69a"/>
<rect x="1146" y="260" width="1" height="17" fill="#ef5350"/>
<rect x="1144" y="270" width="5" height="5" fill="#ef5350"/>
<rect x="1153" y="243" width="1" height="32" fill="#26a69a"/>
<rect x="1151" y="250" width="5" height="25" fill="#26a69a"/>
<rect x="1161" y="225" width="1" height="31" fill="#26a69a"/>
<rect x="1159" y="244" width="5" height="9" fill="#26a69a"/>
<rect x="1169" y="214" width="1" height="40" fill="#26a69a"/>
<rect x="1167" y="241" width="5" height="5" fill="#26a69a"/>
<rect x="1176" y="199" width="1" height="56" fill="#26a69a"/>
<rect x="1174" y="216" width="5" height="25" fill="#26a69a"/>
<rect x="1184" y="211" width="1" height="47" fill="#ef5350"/>
<rect x="1182" y="215" width="5" height="26" fill="#ef5350"/>
<rect x="1192" y="236" width="1" height="43" fill="#ef5350"/>
<rect x="1190" y="240" width="5" height="24" fill="#ef5350"/>
<rect x="1200" y="241" width="1" height="25" fill="#26a69a"/>
<rect x="1198" y="247" width="5" height="17" fill="#26a69a"/>
<rect x="1207" y="232" width="1" height="22" fill="#ef5350"/>
<rect x="1205" y="246" width="5" height="2" fill="#ef5350"/>
<rect x="1215" y="241" width="1" height="29" fill="#ef5350"/>
<rect x="1213" y="248" width="5" height="2" fill="#ef5350"/>
<rect x="1223" y="244" width="1" height="26" fill="#ef5350"/>
<rect x="1221" y="249" width="5" height="16" fill="#ef5350"/>
<rect x="1230" y="264" width="1" height="8" fill="#ef5350"/>
<rect x="1228" y="265" width="5" height="7" fill="#ef5350"/>
<rect x="1238" y="251" width="1" height="68" fill="#ef5350"/>
<rect x="1236" y="272" width="5" height="42" fill="#ef5350"/>
<rect x="1246" y="309" width="1" height="19" fill="#ef5350"/>
<rect x="1244" y="314" width="5" height="3" fill="#ef5350"/>
<rect x="1254" y="290" width="1" height="27" fill="#26a69a"/>
<rect x="1252" y="296" width="5" height="21" fill="#26a69a"/>
<rect x="1261" y="282" width="1" height="16" fill="#26a69a"/>
<rect x="1259" y="282" width="5" height="16" fill="#26a69a"/>
<rect x="1269" y="266" width="1" height="20" fill="#26a69a"/>
<rect x="1267" y="274" width="5" height="9" fill="#26a69a"/>
<rect x="1277" y="254" width="1" height="26" fill="#26a69a"/>
<rect x="1275" y="265" width="5" height="10" fill="#26a69a"/>
<rect x="1284" y="250" width="1" height="21" fill="#26a69a"/>
<rect x="1282" y="262" width="5" height="4" fill="#26a69a"/>
<rect x="1292" y="247" width="1" height="24" fill="#ef5350"/>
<rect x="1290" y="262" width="5" height="4" fill="#ef5350"/>
<rect x="1300" y="237" width="1" height="39" fill="#26a69a"/>
<rect x="1298" y="246" width="5" height="20" fill="#26a69a"/>
<rect x="1307" y="244" width="1" height="19" fill="#ef5350"/>
<rect x="1305" y="247" width="5" height="8" fill="#ef5350"/>
<rect x="1315" y="240" width="1" height="14" fill="#26a69a"/>
<rect x="1313" y="249" width="5" height="5" fill="#26a69a"/>
<rect x="1230.5" y="258.5" width="31" height="75" fill="#2962ff" fill-opacity="0.25" stroke="#131722" stroke-width="1"/>
<circle cx="645.2" cy="286.4" r="8.6" fill="#ffa726" fill-opacity="0.75" stroke="#50535e" stroke-width="1"/>
<circle cx="1138.1" cy="287.3" r="8.6" fill="#ffa726" fill-opacity="0.75" stroke="#50535e" stroke-width="1"/>
<circle cx="1292" cy="248.5" r="8.6" fill="#f7525f" fill-opacity="0.5" stroke="#50535e" stroke-width="1"/>
<text x="793.8" y="61" font-size="13" fill="#131722" font-weight="bold" text-anchor="start" textLength="175" lengthAdjust="spacingAndGlyphs">2146.80 New All-time High</text>
<text x="1102.4" y="309" font-size="14" fill="#4a7cf7" font-weight="bold" text-anchor="start" textLength="93" lengthAdjust="spacingAndGlyphs">Morning Star</text>
<text x="1102.4" y="324.5" font-size="14" fill="#4a7cf7" font-weight="bold" text-anchor="start" textLength="56" lengthAdjust="spacingAndGlyphs">Pattern</text>
<text x="1350.1" y="220" font-size="14" fill="#2a2e39" font-weight="bold" text-anchor="start" textLength="36" lengthAdjust="spacingAndGlyphs">2050</text>
<text x="1350.1" y="283" font-size="14" fill="#2a2e39" font-weight="bold" text-anchor="start" textLength="36" lengthAdjust="spacingAndGlyphs">2010</text>
<text x="1350" y="325.7" font-size="14" fill="#f23645" font-weight="normal" text-anchor="start" textLength="32" lengthAdjust="spacingAndGlyphs">1985</text>
<text x="1350" y="403" font-size="14" fill="#f23645" font-weight="normal" text-anchor="start" textLength="32" lengthAdjust="spacingAndGlyphs">1937</text>
<text x="1350.7" y="497" font-size="14" fill="#131722" font-weight="bold" text-anchor="start" textLength="35.5" lengthAdjust="spacingAndGlyphs">1875</text>
<text x="1351" y="618.6" font-size="19" fill="#9c27b0" font-weight="bold" text-anchor="start" textLength="44.5" lengthAdjust="spacingAndGlyphs">1800</text>
</g>
<text x="18" y="46" font-size="11.5" fill="#434651" font-weight="normal" text-anchor="start">SMA</text>
<text x="47" y="46" font-size="11.5" fill="#f23645" font-weight="normal" text-anchor="start">1967.10</text>
<text x="18" y="63" font-size="11.5" fill="#434651" font-weight="normal" text-anchor="start">SMA</text>
<text x="47" y="63" font-size="11.5" fill="#2f2fff" font-weight="normal" text-anchor="start">2033.61</text>
<line x1="1504.5" y1="28" x2="1504.5" y2="657" stroke="#50535e" stroke-width="1"/>
<line x1="1504.5" y1="724" x2="1504.5" y2="821" stroke="#50535e" stroke-width="1"/>
<rect x="1508" y="31.5" width="56" height="26" rx="4" fill="#fff" stroke="#e6e8ee" stroke-width="1.3"/>
<text x="1517" y="49" font-size="11.5" fill="#131722" font-weight="normal" text-anchor="start" textLength="21" lengthAdjust="spacingAndGlyphs">USD</text>
<text x="1512" y="84.5" font-size="12" fill="#6a6d78" font-weight="normal" text-anchor="start" textLength="42" lengthAdjust="spacingAndGlyphs">2140.00</text>
<text x="1512" y="116.5" font-size="12" fill="#6a6d78" font-weight="normal" text-anchor="start" textLength="42" lengthAdjust="spacingAndGlyphs">2120.00</text>
<text x="1512" y="148.5" font-size="12" fill="#6a6d78" font-weight="normal" text-anchor="start" textLength="42" lengthAdjust="spacingAndGlyphs">2100.00</text>
<text x="1512" y="212.5" font-size="12" fill="#6a6d78" font-weight="normal" text-anchor="start" textLength="42" lengthAdjust="spacingAndGlyphs">2060.00</text>
<text x="1512" y="244.5" font-size="12" fill="#6a6d78" font-weight="normal" text-anchor="start" textLength="42" lengthAdjust="spacingAndGlyphs">2040.00</text>
<text x="1512" y="307.5" font-size="12" fill="#6a6d78" font-weight="normal" text-anchor="start" textLength="42" lengthAdjust="spacingAndGlyphs">2000.00</text>
<text x="1512" y="339.5" font-size="12" fill="#6a6d78" font-weight="normal" text-anchor="start" textLength="42" lengthAdjust="spacingAndGlyphs">1980.00</text>
<text x="1512" y="371.5" font-size="12" fill="#6a6d78" font-weight="normal" text-anchor="start" textLength="42" lengthAdjust="spacingAndGlyphs">1960.00</text>
<text x="1512" y="403.5" font-size="12" fill="#6a6d78" font-weight="normal" text-anchor="start" textLength="42" lengthAdjust="spacingAndGlyphs">1940.00</text>
<text x="1512" y="435.5" font-size="12" fill="#6a6d78" font-weight="normal" text-anchor="start" textLength="42" lengthAdjust="spacingAndGlyphs">1920.00</text>
<text x="1512" y="467.5" font-size="12" fill="#6a6d78" font-weight="normal" text-anchor="start" textLength="42" lengthAdjust="spacingAndGlyphs">1900.00</text>
<text x="1512" y="498.5" font-size="12" fill="#6a6d78" font-weight="normal" text-anchor="start" textLength="42" lengthAdjust="spacingAndGlyphs">1880.00</text>
<text x="1512" y="530.5" font-size="12" fill="#6a6d78" font-weight="normal" text-anchor="start" textLength="42" lengthAdjust="spacingAndGlyphs">1860.00</text>
<text x="1512" y="562.5" font-size="12" fill="#6a6d78" font-weight="normal" text-anchor="start" textLength="42" lengthAdjust="spacingAndGlyphs">1840.00</text>
<text x="1512" y="594.5" font-size="12" fill="#6a6d78" font-weight="normal" text-anchor="start" textLength="42" lengthAdjust="spacingAndGlyphs">1820.00</text>
<path d="M1504,61 H1558 Q1560,61 1560,63 V76 Q1560,78 1558,78 H1504 Z" fill="#000000"/>
<text x="1512" y="74" font-size="12" fill="#fff" font-weight="bold" text-anchor="start" textLength="42" lengthAdjust="spacingAndGlyphs">2146.79</text>
<path d="M1504,148 H1558 Q1560,148 1560,150 V179.5 Q1560,181.5 1558,181.5 H1504 Z" fill="#131722"/>
<text x="1512" y="161.3" font-size="12" fill="#fff" font-weight="bold" text-anchor="start" textLength="42" lengthAdjust="spacingAndGlyphs">2082.26</text>
<text x="1512" y="177.7" font-size="12" fill="#fff" font-weight="bold" text-anchor="start" textLength="42" lengthAdjust="spacingAndGlyphs">2081.82</text>
<path d="M1504,215 H1558 Q1560,215 1560,217 V229.7 Q1560,231.7 1558,231.7 H1504 Z" fill="#000000"/>
<text x="1512" y="228" font-size="12" fill="#fff" font-weight="bold" text-anchor="start" textLength="42" lengthAdjust="spacingAndGlyphs">2049.90</text>
<path d="M1504,241 H1562 Q1564,241 1564,243 V269.5 Q1564,271.5 1562,271.5 H1504 Z" fill="#26a69a"/>
<text x="1512" y="254" font-size="12" fill="#fff" font-weight="bold" text-anchor="start" textLength="42" lengthAdjust="spacingAndGlyphs">2033.62</text>
<text x="1512" y="268" font-size="12" fill="#d4efec" font-weight="bold" text-anchor="start" textLength="42" lengthAdjust="spacingAndGlyphs">05:53:08</text>
<path d="M1504,272.5 H1558 Q1560,272.5 1560,274.5 V286.5 Q1560,288.5 1558,288.5 H1504 Z" fill="#2f2fff"/>
<text x="1512" y="285" font-size="12" fill="#fff" font-weight="bold" text-anchor="start" textLength="42" lengthAdjust="spacingAndGlyphs">2033.61</text>
<path d="M1504,288.5 H1558 Q1560,288.5 1560,290.5 V303.7 Q1560,305.7 1558,305.7 H1504 Z" fill="#000000"/>
<text x="1512" y="301.5" font-size="12" fill="#fff" font-weight="bold" text-anchor="start" textLength="42" lengthAdjust="spacingAndGlyphs">2009.75</text>
<path d="M1504,320.3 H1558 Q1560,320.3 1560,322.3 V334.7 Q1560,336.7 1558,336.7 H1504 Z" fill="#f23645"/>
<text x="1512" y="333" font-size="12" fill="#fff" font-weight="bold" text-anchor="start" textLength="42" lengthAdjust="spacingAndGlyphs">1984.16</text>
<path d="M1504,347.3 H1558 Q1560,347.3 1560,349.3 V361.7 Q1560,363.7 1558,363.7 H1504 Z" fill="#f23645"/>
<text x="1512" y="360" font-size="12" fill="#fff" font-weight="bold" text-anchor="start" textLength="42" lengthAdjust="spacingAndGlyphs">1967.10</text>
<path d="M1504,397.3 H1558 Q1560,397.3 1560,399.3 V411.40000000000003 Q1560,413.40000000000003 1558,413.40000000000003 H1504 Z" fill="#f23645"/>
<text x="1512" y="410" font-size="12" fill="#fff" font-weight="bold" text-anchor="start" textLength="42" lengthAdjust="spacingAndGlyphs">1936.04</text>
<path d="M1504,493.5 H1558 Q1560,493.5 1560,495.5 V508.5 Q1560,510.5 1558,510.5 H1504 Z" fill="#000000"/>
<text x="1512" y="506.5" font-size="12" fill="#fff" font-weight="bold" text-anchor="start" textLength="42" lengthAdjust="spacingAndGlyphs">1875.00</text>
<path d="M1504,613.5 H1558 Q1560,613.5 1560,615.5 V628.5 Q1560,630.5 1558,630.5 H1504 Z" fill="#9c27b0"/>
<text x="1512" y="626.5" font-size="12" fill="#fff" font-weight="bold" text-anchor="start" textLength="42" lengthAdjust="spacingAndGlyphs">1800.00</text>
<path d="M1503,241.2 H1453 Q1451,241.2 1451,243.2 V255.5 Q1451,257.5 1453,257.5 H1503 Z" fill="#26a69a"/>
<text x="1477.0" y="253.65" font-size="12" fill="#fff" font-weight="bold" text-anchor="middle" textLength="43" lengthAdjust="spacingAndGlyphs">XAUUSD</text>
<path d="M1503,272.5 H1454.3 Q1452.3,272.5 1452.3,274.5 V286.5 Q1452.3,288.5 1454.3,288.5 H1503 Z" fill="#2f2fff"/>
<text x="1477.65" y="284.8" font-size="12" fill="#fff" font-weight="bold" text-anchor="middle" textLength="41.700000000000045" lengthAdjust="spacingAndGlyphs">SMA:MA</text>
<path d="M1503,347.3 H1454.3 Q1452.3,347.3 1452.3,349.3 V361.7 Q1452.3,363.7 1454.3,363.7 H1503 Z" fill="#f23645"/>
<text x="1477.65" y="359.8" font-size="12" fill="#fff" font-weight="bold" text-anchor="middle" textLength="41.700000000000045" lengthAdjust="spacingAndGlyphs">SMA:MA</text>
<g clip-path="url(#rp)">
<rect x="10" y="659.5" width="1494" height="57" fill="#7e57c2" fill-opacity="0.1"/>
<line x1="10" y1="659.5" x2="1504" y2="659.5" stroke="#787b86" stroke-width="1" stroke-dasharray="5 6"/>
<line x1="10" y1="687.5" x2="1504" y2="687.5" stroke="#b2b5be" stroke-width="1" stroke-dasharray="5 6"/>
<line x1="10" y1="716.5" x2="1504" y2="716.5" stroke="#787b86" stroke-width="1" stroke-dasharray="5 6"/>
<path d="M477.5,716.4 L483.5,719.6 L491.2,724.8 L498.9,729.6 L506.6,730.9 L514.3,731.2 L522.0,731.4 L529.7,719.3 L530.8,716.4 L530.8,716.4 Z" fill="url(#os)"/>
<polyline points="10,702.0 13.5,702.0 21.2,702.0 28.9,701.3 36.6,700.6 44.3,699.5 52.0,697.6 59.7,695.5 67.4,693.7 75.1,691.9 82.8,689.3 90.5,686.9 98.3,684.8 106.0,683.1 113.7,681.8 121.4,680.1 129.1,678.1 136.8,678.0 144.5,677.3 152.2,676.7 159.9,677.8 167.6,679.4 175.3,680.8 183.0,681.8 190.7,683.8 198.4,686.1 206.1,688.3 213.8,690.2 221.5,691.7 229.2,693.8 236.9,696.4 244.7,698.1 252.4,700.4 260.1,702.9 267.8,704.3 275.5,705.0 283.2,704.7 290.9,704.7 298.6,704.6 306.3,703.8 314.0,701.8 321.7,699.5 329.4,697.5 337.1,695.3 344.8,693.0 352.5,691.1 360.2,689.7 367.9,688.1 375.6,687.0 383.3,685.8 391.0,686.3 398.8,687.0 406.5,687.3 414.2,687.2 421.9,687.3 429.6,687.9 437.3,688.2 445.0,689.3 452.7,690.0 460.4,690.4 468.1,691.1 475.8,692.7 483.5,694.6 491.2,697.1 498.9,699.3 506.6,701.5 514.3,703.9 522.0,707.1 529.7,710.0 537.4,711.3 545.1,712.6 552.9,712.6 560.6,713.1 568.3,711.2 576.0,709.0 583.7,705.9 591.4,702.1 599.1,697.4 606.8,692.2 614.5,687.3 622.2,682.5 629.9,677.4 637.6,673.1 645.3,670.0 653.0,667.2 660.7,665.5 668.4,663.7 676.1,663.6 683.8,663.0 691.5,663.1 699.2,664.0 707.0,666.1 714.7,668.0 722.4,670.3 730.1,672.1 737.8,673.7 745.5,675.4 753.2,676.9 760.9,678.0 768.6,678.7 776.3,678.9 784.0,679.4 791.7,680.0 799.4,679.7 807.1,678.8 814.8,676.6 822.5,674.7 830.2,672.4 837.9,669.8 845.6,669.3 853.3,668.9 861.0,669.1 868.8,669.1 876.5,669.7 884.2,671.4 891.9,672.9 899.6,673.2 907.3,673.7 915.0,674.8 922.7,676.4 930.4,677.8 938.1,679.0 945.8,680.6 953.5,680.5 961.2,680.0 968.9,679.4 976.6,678.7 984.3,677.7 992.0,676.2 999.7,674.7 1007.4,674.5 1015.1,675.2 1022.9,675.3 1030.6,675.5 1038.3,676.6 1046.0,677.4 1053.7,678.8 1061.4,680.1 1069.1,680.6 1076.8,681.2 1084.5,683.1 1092.2,685.2 1099.9,686.5 1107.6,687.6 1115.3,688.9 1123.0,689.2 1130.7,690.0 1138.4,690.7 1146.1,690.8 1153.8,690.4 1161.5,689.7 1169.2,689.2 1177.0,688.8 1184.7,689.3 1192.4,689.3 1200.1,688.3 1207.8,687.8 1215.5,687.7 1223.2,687.6 1230.9,688.0 1238.6,688.8 1246.3,689.9 1254.0,690.2 1261.7,690.8 1269.4,691.3 1277.1,691.6 1284.8,692.3 1292.5,692.6 1300.2,691.8 1307.9,691.6 1315.6,691.3" fill="none" stroke="#fde23b" stroke-width="1.2"/>
<polyline points="10,699 13.5,700.2 21.2,702.0 28.9,692.5 36.6,692.2 44.3,687.6 52.0,674.4 59.7,673.1 67.4,677.0 75.1,677.2 82.8,665.7 90.5,668.0 98.3,673.1 106.0,678.8 113.7,683.0 121.4,677.2 129.1,674.0 136.8,690.0 144.5,682.8 152.2,679.8 159.9,688.7 167.6,696.5 175.3,696.1 183.0,690.7 190.7,694.2 198.4,699.8 206.1,704.1 213.8,705.2 221.5,704.5 229.2,707.2 236.9,709.7 244.7,713.7 252.4,714.7 260.1,715.0 267.8,709.0 275.5,706.7 283.2,691.7 290.9,690.7 298.6,692.5 306.3,688.1 314.0,676.7 321.7,673.5 329.4,676.2 337.1,676.0 344.8,677.2 352.5,688.1 360.2,695.2 367.9,692.0 375.6,693.9 383.3,690.0 391.0,698.0 398.8,700.2 406.5,697.5 414.2,686.1 421.9,679.2 429.6,681.1 437.3,681.1 445.0,691.2 452.7,686.5 460.4,693.8 468.1,704.2 475.8,715.5 483.5,719.6 491.2,724.8 498.9,729.6 506.6,730.9 514.3,731.2 522.0,731.4 529.7,719.3 537.4,698.5 545.1,699.7 552.9,690.9 560.6,693.7 568.3,667.8 576.0,673.3 583.7,672.6 591.4,665.4 599.1,659.1 606.8,657.4 614.5,662.1 622.2,663.3 629.9,660.6 637.6,659.5 645.3,654.2 653.0,660.7 660.7,667.3 668.4,668.0 676.1,666.9 683.8,664.8 691.5,673.8 699.2,678.3 707.0,688.3 714.7,684.4 722.4,693.6 730.1,689.5 737.8,682.2 745.5,684.1 753.2,675.2 760.9,675.6 768.6,677.6 776.3,669.7 784.0,674.8 791.7,673.3 799.4,669.8 807.1,665.6 814.8,657.7 822.5,656.9 830.2,662.2 837.9,653.0 845.6,675.0 853.3,678.8 861.0,676.9 868.8,675.9 876.5,686.1 884.2,694.2 891.9,695.0 899.6,678.3 907.3,675.8 915.0,682.3 922.7,679.8 930.4,675.9 938.1,679.4 945.8,675.0 953.5,673.0 961.2,673.2 968.9,668.4 976.6,665.6 984.3,672.2 992.0,673.5 999.7,673.4 1007.4,675.6 1015.1,684.9 1022.9,683.9 1030.6,683.0 1038.3,691.8 1046.0,690.6 1053.7,693.9 1061.4,690.8 1069.1,680.3 1076.8,677.9 1084.5,691.8 1092.2,700.7 1099.9,692.4 1107.6,689.2 1115.3,693.0 1123.0,689.1 1130.7,695.8 1138.4,692.0 1146.1,693.4 1153.8,685.7 1161.5,683.9 1169.2,683.0 1177.0,675.8 1184.7,684.4 1192.4,691.5 1200.1,686.3 1207.8,686.5 1215.5,687.2 1223.2,692.3 1230.9,694.7 1238.6,706.5 1246.3,707.0 1254.0,698.6 1261.7,693.5 1269.4,690.6 1277.1,687.4 1284.8,686.3 1292.5,687.7 1300.2,680.4 1307.9,684.0 1315.6,681.9" fill="none" stroke="#7e57c2" stroke-width="1.2" stroke-linejoin="round"/>
</g>
<text x="18" y="661.5" font-size="11.5" fill="#434651" font-weight="normal" text-anchor="start">RSI</text>
<text x="42" y="661.5" font-size="11.5" fill="#7e57c2" font-weight="normal" text-anchor="start">54.11</text>
<text x="79" y="661.5" font-size="11.5" fill="#fdd835" font-weight="normal" text-anchor="start">47.56</text>
<text x="119.8" y="661.5" font-size="10.5" fill="#434651" font-weight="normal" text-anchor="middle" textLength="7.5" lengthAdjust="spacingAndGlyphs">&#8709;</text>
<text x="134.4" y="661.5" font-size="10.5" fill="#434651" font-weight="normal" text-anchor="middle" textLength="7.5" lengthAdjust="spacingAndGlyphs">&#8709;</text>
<text x="150.4" y="661.5" font-size="10.5" fill="#434651" font-weight="normal" text-anchor="middle" textLength="7.5" lengthAdjust="spacingAndGlyphs">&#8709;</text>
<text x="165" y="661.5" font-size="10.5" fill="#434651" font-weight="normal" text-anchor="middle" textLength="7.5" lengthAdjust="spacingAndGlyphs">&#8709;</text>
<text x="180.5" y="661.5" font-size="10.5" fill="#434651" font-weight="normal" text-anchor="middle" textLength="7.5" lengthAdjust="spacingAndGlyphs">&#8709;</text>
<text x="195.6" y="661.5" font-size="10.5" fill="#434651" font-weight="normal" text-anchor="middle" textLength="7.5" lengthAdjust="spacingAndGlyphs">&#8709;</text>
<g clip-path="url(#mc)">
<line x1="10" y1="768.5" x2="1504" y2="768.5" stroke="#9598a1" stroke-width="1" stroke-dasharray="4 6.6"/>
<rect x="10" y="767.4" width="6" height="1.0" fill="#26a69a"/>
<rect x="18" y="767.5" width="6" height="1.0" fill="#b2dfdb"/>
<rect x="25" y="766.7" width="6" height="1.5" fill="#26a69a"/>
<rect x="33" y="766.2" width="6" height="2.0" fill="#26a69a"/>
<rect x="41" y="765.6" width="6" height="2.6" fill="#26a69a"/>
<rect x="49" y="764.0" width="6" height="4.2" fill="#26a69a"/>
<rect x="56" y="763.0" width="6" height="5.2" fill="#26a69a"/>
<rect x="64" y="762.9" width="6" height="5.3" fill="#26a69a"/>
<rect x="72" y="763.1" width="6" height="5.1" fill="#b2dfdb"/>
<rect x="79" y="762.2" width="6" height="6.0" fill="#26a69a"/>
<rect x="87" y="762.1" width="6" height="6.1" fill="#26a69a"/>
<rect x="95" y="762.6" width="6" height="5.6" fill="#b2dfdb"/>
<rect x="102" y="763.7" width="6" height="4.5" fill="#b2dfdb"/>
<rect x="110" y="764.9" width="6" height="3.3" fill="#b2dfdb"/>
<rect x="118" y="765.3" width="6" height="2.9" fill="#b2dfdb"/>
<rect x="126" y="765.5" width="6" height="2.7" fill="#b2dfdb"/>
<rect x="133" y="767.0" width="6" height="1.2" fill="#b2dfdb"/>
<rect x="141" y="767.4" width="6" height="1.0" fill="#b2dfdb"/>
<rect x="149" y="767.4" width="6" height="1.0" fill="#b2dfdb"/>
<rect x="156" y="768.2" width="6" height="1.0" fill="#ff5252"/>
<rect x="164" y="768.2" width="6" height="1.5" fill="#ff5252"/>
<rect x="172" y="768.2" width="6" height="2.3" fill="#ff5252"/>
<rect x="180" y="768.2" width="6" height="2.2" fill="#ffcdd2"/>
<rect x="187" y="768.2" width="6" height="2.4" fill="#ff5252"/>
<rect x="195" y="768.2" width="6" height="3.1" fill="#ff5252"/>
<rect x="203" y="768.2" width="6" height="3.8" fill="#ff5252"/>
<rect x="210" y="768.2" width="6" height="4.2" fill="#ff5252"/>
<rect x="218" y="768.2" width="6" height="4.1" fill="#ffcdd2"/>
<rect x="226" y="768.2" width="6" height="4.2" fill="#ff5252"/>
<rect x="233" y="768.2" width="6" height="4.3" fill="#ff5252"/>
<rect x="241" y="768.2" width="6" height="4.5" fill="#ff5252"/>
<rect x="249" y="768.2" width="6" height="4.5" fill="#ffcdd2"/>
<rect x="257" y="768.2" width="6" height="4.2" fill="#ffcdd2"/>
<rect x="264" y="768.2" width="6" height="3.5" fill="#ffcdd2"/>
<rect x="272" y="768.2" width="6" height="2.6" fill="#ffcdd2"/>
<rect x="280" y="768.2" width="6" height="1.0" fill="#ffcdd2"/>
<rect x="287" y="767.9" width="6" height="1.0" fill="#26a69a"/>
<rect x="295" y="767.2" width="6" height="1.0" fill="#26a69a"/>
<rect x="303" y="766.5" width="6" height="1.7" fill="#26a69a"/>
<rect x="310" y="765.2" width="6" height="3.0" fill="#26a69a"/>
<rect x="318" y="764.2" width="6" height="4.0" fill="#26a69a"/>
<rect x="326" y="763.9" width="6" height="4.3" fill="#26a69a"/>
<rect x="334" y="763.9" width="6" height="4.3" fill="#26a69a"/>
<rect x="341" y="764.1" width="6" height="4.1" fill="#b2dfdb"/>
<rect x="349" y="765.0" width="6" height="3.2" fill="#b2dfdb"/>
<rect x="357" y="766.3" width="6" height="1.9" fill="#b2dfdb"/>
<rect x="364" y="766.9" width="6" height="1.3" fill="#b2dfdb"/>
<rect x="372" y="767.5" width="6" height="1.0" fill="#b2dfdb"/>
<rect x="380" y="767.7" width="6" height="1.0" fill="#b2dfdb"/>
<rect x="388" y="768.2" width="6" height="1.0" fill="#ff5252"/>
<rect x="395" y="768.2" width="6" height="1.0" fill="#ff5252"/>
<rect x="403" y="768.2" width="6" height="1.0" fill="#ff5252"/>
<rect x="411" y="768.2" width="6" height="1.0" fill="#ffcdd2"/>
<rect x="418" y="767.6" width="6" height="1.0" fill="#26a69a"/>
<rect x="426" y="767.2" width="6" height="1.0" fill="#26a69a"/>
<rect x="434" y="766.9" width="6" height="1.3" fill="#26a69a"/>
<rect x="441" y="767.4" width="6" height="1.0" fill="#b2dfdb"/>
<rect x="449" y="767.5" width="6" height="1.0" fill="#b2dfdb"/>
<rect x="457" y="768.0" width="6" height="1.0" fill="#b2dfdb"/>
<rect x="465" y="768.2" width="6" height="1.0" fill="#ff5252"/>
<rect x="472" y="768.2" width="6" height="2.8" fill="#ff5252"/>
<rect x="480" y="768.2" width="6" height="4.3" fill="#ff5252"/>
<rect x="488" y="768.2" width="6" height="5.9" fill="#ff5252"/>
<rect x="495" y="768.2" width="6" height="7.5" fill="#ff5252"/>
<rect x="503" y="768.2" width="6" height="8.3" fill="#ff5252"/>
<rect x="511" y="768.2" width="6" height="8.4" fill="#ff5252"/>
<rect x="519" y="768.2" width="6" height="8.0" fill="#ffcdd2"/>
<rect x="526" y="768.2" width="6" height="6.5" fill="#ffcdd2"/>
<rect x="534" y="768.2" width="6" height="3.7" fill="#ffcdd2"/>
<rect x="542" y="768.2" width="6" height="1.8" fill="#ffcdd2"/>
<rect x="549" y="767.8" width="6" height="1.0" fill="#26a69a"/>
<rect x="557" y="766.6" width="6" height="1.6" fill="#26a69a"/>
<rect x="565" y="762.6" width="6" height="5.6" fill="#26a69a"/>
<rect x="572" y="760.9" width="6" height="7.3" fill="#26a69a"/>
<rect x="580" y="759.9" width="6" height="8.3" fill="#26a69a"/>
<rect x="588" y="758.5" width="6" height="9.7" fill="#26a69a"/>
<rect x="596" y="756.8" width="6" height="11.4" fill="#26a69a"/>
<rect x="603" y="755.9" width="6" height="12.3" fill="#26a69a"/>
<rect x="611" y="756.4" width="6" height="11.8" fill="#b2dfdb"/>
<rect x="619" y="757.4" width="6" height="10.8" fill="#b2dfdb"/>
<rect x="626" y="758.2" width="6" height="10.0" fill="#b2dfdb"/>
<rect x="634" y="759.1" width="6" height="9.1" fill="#b2dfdb"/>
<rect x="642" y="759.1" width="6" height="9.1" fill="#b2dfdb"/>
<rect x="650" y="760.3" width="6" height="7.9" fill="#b2dfdb"/>
<rect x="657" y="762.1" width="6" height="6.1" fill="#b2dfdb"/>
<rect x="665" y="763.8" width="6" height="4.4" fill="#b2dfdb"/>
<rect x="673" y="765.0" width="6" height="3.2" fill="#b2dfdb"/>
<rect x="680" y="765.8" width="6" height="2.4" fill="#b2dfdb"/>
<rect x="688" y="767.4" width="6" height="1.0" fill="#b2dfdb"/>
<rect x="696" y="768.2" width="6" height="1.0" fill="#ff5252"/>
<rect x="703" y="768.2" width="6" height="2.8" fill="#ff5252"/>
<rect x="711" y="768.2" width="6" height="3.7" fill="#ff5252"/>
<rect x="719" y="768.2" width="6" height="5.2" fill="#ff5252"/>
<rect x="727" y="768.2" width="6" height="5.6" fill="#ff5252"/>
<rect x="734" y="768.2" width="6" height="4.8" fill="#ffcdd2"/>
<rect x="742" y="768.2" width="6" height="4.4" fill="#ffcdd2"/>
<rect x="750" y="768.2" width="6" height="2.9" fill="#ffcdd2"/>
<rect x="757" y="768.2" width="6" height="1.9" fill="#ffcdd2"/>
<rect x="765" y="768.2" width="6" height="1.5" fill="#ffcdd2"/>
<rect x="773" y="768.2" width="6" height="1.0" fill="#ffcdd2"/>
<rect x="781" y="768.1" width="6" height="1.0" fill="#26a69a"/>
<rect x="788" y="767.8" width="6" height="1.0" fill="#26a69a"/>
<rect x="796" y="767.3" width="6" height="1.0" fill="#26a69a"/>
<rect x="804" y="766.5" width="6" height="1.7" fill="#26a69a"/>
<rect x="811" y="764.9" width="6" height="3.3" fill="#26a69a"/>
<rect x="819" y="764.0" width="6" height="4.2" fill="#26a69a"/>
<rect x="827" y="764.1" width="6" height="4.1" fill="#b2dfdb"/>
<rect x="834" y="762.8" width="6" height="5.4" fill="#26a69a"/>
<rect x="842" y="764.5" width="6" height="3.7" fill="#b2dfdb"/>
<rect x="850" y="766.4" width="6" height="1.8" fill="#b2dfdb"/>
<rect x="858" y="767.5" width="6" height="1.0" fill="#b2dfdb"/>
<rect x="865" y="768.2" width="6" height="1.0" fill="#ff5252"/>
<rect x="873" y="768.2" width="6" height="1.8" fill="#ff5252"/>
<rect x="881" y="768.2" width="6" height="4.1" fill="#ff5252"/>
<rect x="888" y="768.2" width="6" height="5.6" fill="#ff5252"/>
<rect x="896" y="768.2" width="6" height="4.0" fill="#ffcdd2"/>
<rect x="904" y="768.2" width="6" height="2.4" fill="#ffcdd2"/>
<rect x="911" y="768.2" width="6" height="2.2" fill="#ffcdd2"/>
<rect x="919" y="768.2" width="6" height="1.7" fill="#ffcdd2"/>
<rect x="927" y="768.2" width="6" height="1.0" fill="#ffcdd2"/>
<rect x="935" y="768.2" width="6" height="1.0" fill="#ffcdd2"/>
<rect x="942" y="768.1" width="6" height="1.0" fill="#26a69a"/>
<rect x="950" y="767.4" width="6" height="1.0" fill="#26a69a"/>
<rect x="958" y="767.2" width="6" height="1.0" fill="#26a69a"/>
<rect x="965" y="766.4" width="6" height="1.8" fill="#26a69a"/>
<rect x="973" y="765.6" width="6" height="2.6" fill="#26a69a"/>
<rect x="981" y="766.0" width="6" height="2.2" fill="#b2dfdb"/>
<rect x="989" y="766.6" width="6" height="1.6" fill="#b2dfdb"/>
<rect x="996" y="767.1" width="6" height="1.1" fill="#b2dfdb"/>
<rect x="1004" y="767.8" width="6" height="1.0" fill="#b2dfdb"/>
<rect x="1012" y="768.2" width="6" height="1.1" fill="#ff5252"/>
<rect x="1019" y="768.2" width="6" height="2.0" fill="#ff5252"/>
<rect x="1027" y="768.2" width="6" height="2.4" fill="#ff5252"/>
<rect x="1035" y="768.2" width="6" height="3.6" fill="#ff5252"/>
<rect x="1042" y="768.2" width="6" height="4.1" fill="#ff5252"/>
<rect x="1050" y="768.2" width="6" height="4.6" fill="#ff5252"/>
<rect x="1058" y="768.2" width="6" height="4.5" fill="#ffcdd2"/>
<rect x="1066" y="768.2" width="6" height="3.2" fill="#ffcdd2"/>
<rect x="1073" y="768.2" width="6" height="2.1" fill="#ffcdd2"/>
<rect x="1081" y="768.2" width="6" height="2.7" fill="#ff5252"/>
<rect x="1089" y="768.2" width="6" height="4.0" fill="#ff5252"/>
<rect x="1096" y="768.2" width="6" height="3.8" fill="#ffcdd2"/>
<rect x="1104" y="768.2" width="6" height="3.2" fill="#ffcdd2"/>
<rect x="1112" y="768.2" width="6" height="3.1" fill="#ffcdd2"/>
<rect x="1120" y="768.2" width="6" height="2.5" fill="#ffcdd2"/>
<rect x="1127" y="768.2" width="6" height="2.8" fill="#ff5252"/>
<rect x="1135" y="768.2" width="6" height="2.4" fill="#ffcdd2"/>
<rect x="1143" y="768.2" width="6" height="2.3" fill="#ffcdd2"/>
<rect x="1150" y="768.2" width="6" height="1.3" fill="#ffcdd2"/>
<rect x="1158" y="768.2" width="6" height="1.0" fill="#ffcdd2"/>
<rect x="1166" y="767.9" width="6" height="1.0" fill="#26a69a"/>
<rect x="1173" y="766.7" width="6" height="1.5" fill="#26a69a"/>
<rect x="1181" y="766.8" width="6" height="1.4" fill="#b2dfdb"/>
<rect x="1189" y="767.6" width="6" height="1.0" fill="#b2dfdb"/>
<rect x="1197" y="767.7" width="6" height="1.0" fill="#b2dfdb"/>
<rect x="1204" y="767.8" width="6" height="1.0" fill="#b2dfdb"/>
<rect x="1212" y="767.9" width="6" height="1.0" fill="#b2dfdb"/>
<rect x="1220" y="768.2" width="6" height="1.0" fill="#ff5252"/>
<rect x="1227" y="768.2" width="6" height="1.0" fill="#ff5252"/>
<rect x="1235" y="768.2" width="6" height="2.5" fill="#ff5252"/>
<rect x="1243" y="768.2" width="6" height="3.4" fill="#ff5252"/>
<rect x="1251" y="768.2" width="6" height="3.2" fill="#ffcdd2"/>
<rect x="1258" y="768.2" width="6" height="2.4" fill="#ffcdd2"/>
<rect x="1266" y="768.2" width="6" height="1.6" fill="#ffcdd2"/>
<rect x="1274" y="768.2" width="6" height="1.0" fill="#ffcdd2"/>
<rect x="1281" y="768.1" width="6" height="1.0" fill="#26a69a"/>
<rect x="1289" y="767.7" width="6" height="1.0" fill="#26a69a"/>
<rect x="1297" y="766.8" width="6" height="1.4" fill="#26a69a"/>
<rect x="1304" y="766.6" width="6" height="1.6" fill="#26a69a"/>
<rect x="1312" y="766.4" width="6" height="1.8" fill="#26a69a"/>
<polyline points="10,779.3 13.5,779.0 21.2,778.8 28.9,778.5 36.6,778.0 44.3,777.3 52.0,776.3 59.7,775.0 67.4,773.7 75.1,772.4 82.8,770.9 90.5,769.3 98.3,768.0 106.0,766.8 113.7,766.0 121.4,765.3 129.1,764.6 136.8,764.3 144.5,764.1 152.2,763.9 159.9,763.9 167.6,764.3 175.3,764.9 183.0,765.4 190.7,766.0 198.4,766.8 206.1,767.8 213.8,768.8 221.5,769.8 229.2,770.9 236.9,771.9 244.7,773.1 252.4,774.2 260.1,775.3 267.8,776.1 275.5,776.8 283.2,777.0 290.9,777.0 298.6,776.7 306.3,776.3 314.0,775.5 321.7,774.5 329.4,773.5 337.1,772.4 344.8,771.4 352.5,770.6 360.2,770.1 367.9,769.8 375.6,769.6 383.3,769.5 391.0,769.5 398.8,769.7 406.5,769.9 414.2,769.9 421.9,769.8 429.6,769.5 437.3,769.2 445.0,769.0 452.7,768.8 460.4,768.8 468.1,769.0 475.8,769.7 483.5,770.8 491.2,772.3 498.9,774.1 506.6,776.2 514.3,778.3 522.0,780.3 529.7,781.9 537.4,782.9 545.1,783.3 552.9,783.2 560.6,782.8 568.3,781.4 576.0,779.6 583.7,777.5 591.4,775.1 599.1,772.2 606.8,769.1 614.5,766.2 622.2,763.5 629.9,761.0 637.6,758.7 645.3,756.5 653.0,754.5 660.7,752.9 668.4,751.8 676.1,751.1 683.8,750.5 691.5,750.3 699.2,750.4 707.0,751.1 714.7,752.0 722.4,753.3 730.1,754.7 737.8,755.9 745.5,757.0 753.2,757.8 760.9,758.2 768.6,758.6 776.3,758.7 784.0,758.7 791.7,758.6 799.4,758.3 807.1,757.9 814.8,757.1 822.5,756.0 830.2,755.0 837.9,753.7 845.6,752.8 853.3,752.3 861.0,752.1 868.8,752.1 876.5,752.6 884.2,753.6 891.9,755.0 899.6,756.0 907.3,756.6 915.0,757.2 922.7,757.6 930.4,757.8 938.1,758.0 945.8,758.0 953.5,757.8 961.2,757.5 968.9,757.1 976.6,756.4 984.3,755.8 992.0,755.4 999.7,755.2 1007.4,755.1 1015.1,755.4 1022.9,755.8 1030.6,756.5 1038.3,757.3 1046.0,758.4 1053.7,759.5 1061.4,760.6 1069.1,761.4 1076.8,762.0 1084.5,762.6 1092.2,763.6 1099.9,764.6 1107.6,765.4 1115.3,766.2 1123.0,766.8 1130.7,767.5 1138.4,768.1 1146.1,768.7 1153.8,769.0 1161.5,769.1 1169.2,769.0 1177.0,768.6 1184.7,768.3 1192.4,768.1 1200.1,768.0 1207.8,767.9 1215.5,767.8 1223.2,767.9 1230.9,768.1 1238.6,768.7 1246.3,769.6 1254.0,770.4 1261.7,771.0 1269.4,771.4 1277.1,771.5 1284.8,771.5 1292.5,771.4 1300.2,771.0 1307.9,770.6 1315.6,770.2" fill="none" stroke="#ff6d00" stroke-width="1.3"/>
<polyline points="10,778.7 13.5,778.2 21.2,778.1 28.9,777.0 36.6,776.0 44.3,774.7 52.0,772.1 59.7,769.8 67.4,768.4 75.1,767.3 82.8,764.9 90.5,763.2 98.3,762.4 106.0,762.3 113.7,762.7 121.4,762.4 129.1,761.9 136.8,763.1 144.5,763.3 152.2,763.1 159.9,764.0 167.6,765.8 175.3,767.1 183.0,767.7 190.7,768.5 198.4,769.9 206.1,771.5 213.8,773.0 221.5,774.0 229.2,775.1 236.9,776.2 244.7,777.6 252.4,778.7 260.1,779.5 267.8,779.6 275.5,779.4 283.2,778.0 290.9,776.7 298.6,775.8 306.3,774.6 314.0,772.5 321.7,770.6 329.4,769.2 337.1,768.0 344.8,767.2 352.5,767.4 360.2,768.1 367.9,768.5 375.6,768.9 383.3,768.9 391.0,769.6 398.8,770.3 406.5,770.7 414.2,770.2 421.9,769.1 429.6,768.5 437.3,767.9 445.0,768.2 452.7,768.1 460.4,768.6 468.1,770.0 475.8,772.5 483.5,775.1 491.2,778.1 498.9,781.6 506.6,784.5 514.3,786.7 522.0,788.3 529.7,788.5 537.4,786.6 545.1,785.1 552.9,782.8 560.6,781.2 568.3,775.8 576.0,772.2 583.7,769.2 591.4,765.4 599.1,760.8 606.8,756.8 614.5,754.4 622.2,752.7 629.9,751.0 637.6,749.6 645.3,747.4 653.0,746.5 660.7,746.9 668.4,747.4 676.1,747.9 683.8,748.1 691.5,749.4 699.2,751.1 707.0,753.9 714.7,755.7 722.4,758.5 730.1,760.3 737.8,760.7 745.5,761.4 753.2,760.7 760.9,760.2 768.6,760.1 776.3,758.9 784.0,758.6 791.7,758.2 799.4,757.5 807.1,756.3 814.8,753.8 822.5,751.8 830.2,751.0 837.9,748.3 845.6,749.1 853.3,750.5 861.0,751.4 868.8,752.2 876.5,754.4 884.2,757.8 891.9,760.6 899.6,760.0 907.3,759.0 915.0,759.4 922.7,759.4 930.4,758.6 938.1,758.6 945.8,757.9 953.5,757.0 961.2,756.5 968.9,755.2 976.6,753.8 984.3,753.6 992.0,753.8 999.7,754.1 1007.4,754.7 1015.1,756.5 1022.9,757.8 1030.6,758.9 1038.3,760.9 1046.0,762.4 1053.7,764.1 1061.4,765.1 1069.1,764.7 1076.8,764.1 1084.5,765.3 1092.2,767.6 1099.9,768.4 1107.6,768.6 1115.3,769.3 1123.0,769.3 1130.7,770.3 1138.4,770.6 1146.1,770.9 1153.8,770.2 1161.5,769.4 1169.2,768.7 1177.0,767.1 1184.7,766.9 1192.4,767.6 1200.1,767.5 1207.8,767.4 1215.5,767.5 1223.2,768.1 1230.9,768.9 1238.6,771.2 1246.3,773.0 1254.0,773.6 1261.7,773.4 1269.4,772.9 1277.1,772.1 1284.8,771.3 1292.5,770.8 1300.2,769.7 1307.9,769.0 1315.6,768.3" fill="none" stroke="#2962ff" stroke-width="1.3"/>
</g>
<text x="18" y="760" font-size="11.5" fill="#434651" font-weight="normal" text-anchor="start">MACD</text>
<text x="55.4" y="760" font-size="11.5" fill="#26a69a" font-weight="normal" text-anchor="start">2.35</text>
<text x="86.5" y="760" font-size="11.5" fill="#2962ff" font-weight="normal" text-anchor="start">&#8722;0.17</text>
<text x="123.2" y="760" font-size="11.5" fill="#ff6d00" font-weight="normal" text-anchor="start">&#8722;2.52</text>
<text x="1512.5" y="656.5" font-size="12" fill="#6a6d78" font-weight="normal" text-anchor="start" textLength="28.6" lengthAdjust="spacingAndGlyphs">75.00</text>
<rect x="1411" y="658.4" width="150" height="15" fill="#fff"/>
<text x="1415.4" y="669.5" font-size="12" fill="#131722" font-weight="normal" text-anchor="start" textLength="82.4" lengthAdjust="spacingAndGlyphs">Regular Bearish</text>
<text x="1512.5" y="669.5" font-size="12" fill="#131722" font-weight="normal" text-anchor="start" textLength="28.6" lengthAdjust="spacingAndGlyphs">58.48</text>
<path d="M1477.2,674.3 H1502.7 V690.5 H1477.2 Z" fill="#7e57c2"/>
<text x="1490" y="686.5" font-size="12" fill="#fff" font-weight="bold" text-anchor="middle" textLength="18" lengthAdjust="spacingAndGlyphs">RSI</text>
<path d="M1504.1,674.3 H1544.8 Q1546.8,674.3 1546.8,676.3 V688.5 Q1546.8,690.5 1544.8,690.5 H1504.1 Z" fill="#7e57c2"/>
<text x="1512.5" y="686.5" font-size="12" fill="#fff" font-weight="bold" text-anchor="start" textLength="28.6" lengthAdjust="spacingAndGlyphs">54.11</text>
<path d="M1423,690.5 H1502.7 V707.6 H1423 Z" fill="#ffeb3b"/>
<text x="1427.5" y="703.5" font-size="12" fill="#131722" font-weight="normal" text-anchor="start" textLength="70.5" lengthAdjust="spacingAndGlyphs">RSI-based MA</text>
<path d="M1504.1,690.5 H1544.8 Q1546.8,690.5 1546.8,692.5 V705.6 Q1546.8,707.6 1544.8,707.6 H1504.1 Z" fill="#ffeb3b"/>
<text x="1512.5" y="703.5" font-size="12" fill="#131722" font-weight="normal" text-anchor="start" textLength="28.6" lengthAdjust="spacingAndGlyphs">47.56</text>
<text x="1512.5" y="728" font-size="12" fill="#6a6d78" font-weight="normal" text-anchor="start" textLength="28.6" lengthAdjust="spacingAndGlyphs">25.00</text>
<rect x="1414" y="708" width="147" height="16.5" fill="#fff"/>
<text x="1419.6" y="720" font-size="12" fill="#131722" font-weight="normal" text-anchor="start" textLength="78.2" lengthAdjust="spacingAndGlyphs">Regular Bullish</text>
<text x="1512.5" y="720" font-size="12" fill="#131722" font-weight="normal" text-anchor="start" textLength="28.6" lengthAdjust="spacingAndGlyphs">36.54</text>
<path d="M1439,758.3 H1502.8 V774.7 H1439 Z" fill="#26a69a"/>
<text x="1443.5" y="771" font-size="12" fill="#fff" font-weight="bold" text-anchor="start" textLength="55" lengthAdjust="spacingAndGlyphs">Histogram</text>
<path d="M1504,758.3 H1538.7 Q1540.7,758.3 1540.7,760.3 V772.7 Q1540.7,774.7 1538.7,774.7 H1504 Z" fill="#26a69a"/>
<text x="1512.5" y="771" font-size="12" fill="#fff" font-weight="bold" text-anchor="start" textLength="22" lengthAdjust="spacingAndGlyphs">2.35</text>
<path d="M1463,775.2 H1502.8 V793 H1463 Z" fill="#2962ff"/>
<text x="1467.5" y="788.5" font-size="12" fill="#fff" font-weight="bold" text-anchor="start" textLength="31" lengthAdjust="spacingAndGlyphs">MACD</text>
<path d="M1504,775.2 H1545 Q1547,775.2 1547,777.2 V791 Q1547,793 1545,793 H1504 Z" fill="#2962ff"/>
<text x="1511" y="788.5" font-size="12" fill="#fff" font-weight="bold" text-anchor="start" textLength="30" lengthAdjust="spacingAndGlyphs">&#8722;0.17</text>
<rect x="1463" y="792" width="84" height="2.5" fill="#ff6d00"/>
<text x="160" y="812" font-size="12" fill="#2a2e39" font-weight="normal" text-anchor="middle" textLength="19.3" lengthAdjust="spacingAndGlyphs">Aug</text>
<text x="245" y="812" font-size="12" fill="#2a2e39" font-weight="normal" text-anchor="middle" textLength="12.5" lengthAdjust="spacingAndGlyphs">16</text>
<text x="337" y="812" font-size="12" fill="#2a2e39" font-weight="normal" text-anchor="middle" textLength="19.5" lengthAdjust="spacingAndGlyphs">Sep</text>
<text x="499" y="812" font-size="12" fill="#2a2e39" font-weight="normal" text-anchor="middle" textLength="18.5" lengthAdjust="spacingAndGlyphs">Oct</text>
<text x="584" y="812" font-size="12" fill="#2a2e39" font-weight="normal" text-anchor="middle" textLength="12.5" lengthAdjust="spacingAndGlyphs">17</text>
<text x="668" y="812" font-size="12" fill="#2a2e39" font-weight="normal" text-anchor="middle" textLength="20" lengthAdjust="spacingAndGlyphs">Nov</text>
<text x="753" y="812" font-size="12" fill="#2a2e39" font-weight="normal" text-anchor="middle" textLength="12.5" lengthAdjust="spacingAndGlyphs">16</text>
<text x="838" y="812" font-size="12" fill="#2a2e39" font-weight="normal" text-anchor="middle" textLength="20" lengthAdjust="spacingAndGlyphs">Dec</text>
<text x="1000" y="812" font-size="12" fill="#2a2e39" font-weight="bold" text-anchor="middle" textLength="28" lengthAdjust="spacingAndGlyphs">2024</text>
<text x="1084" y="812" font-size="12" fill="#2a2e39" font-weight="normal" text-anchor="middle" textLength="12.5" lengthAdjust="spacingAndGlyphs">16</text>
<text x="1177" y="812" font-size="12" fill="#2a2e39" font-weight="normal" text-anchor="middle" textLength="19.5" lengthAdjust="spacingAndGlyphs">Feb</text>
<text x="1339" y="812" font-size="12" fill="#787b86" font-weight="normal" text-anchor="middle" textLength="21" lengthAdjust="spacingAndGlyphs">Mar</text>
<text x="1497.7" y="812" font-size="12" fill="#787b86" font-weight="normal" text-anchor="middle" textLength="14" lengthAdjust="spacingAndGlyphs">Ap</text>
<g fill="#131722"><path d="M9.9,834.1 H17.9 V843.6 H13.7 V837.5 H9.9 Z"/><circle cx="21.7" cy="835.9" r="1.8"/><path d="M25.1,834.1 H29.9 L25.5,843.6 H21.1 Z"/></g>
<text x="33.3" y="843.6" font-size="12.5" fill="#2a2e39" font-weight="normal" text-anchor="start" textLength="69.7" lengthAdjust="spacingAndGlyphs">TradingView</text>
<defs><filter id="wb" x="-5%" y="-5%" width="110%" height="110%"><feGaussianBlur stdDeviation="0.7"/></filter></defs>
<g opacity="0.7" transform="translate(3.2,-4)">
<polyline points="1344,780 1354.6,780 1356,775" fill="none" stroke="#ffffff" stroke-width="8.5" stroke-linejoin="round"/>
<polyline points="1364,774.3 1394,774.3 1396.5,768" fill="none" stroke="#ffffff" stroke-width="8.5" stroke-linejoin="round"/>
<polyline points="1349.8,781.8 1347.6,791.3" fill="none" stroke="#ffffff" stroke-width="8.5" stroke-linejoin="round"/>
<polyline points="1363,784.6 1380.7,784.6" fill="none" stroke="#ffffff" stroke-width="8.5" stroke-linejoin="round"/>
<polyline points="1365,784 1361.7,793" fill="none" stroke="#ffffff" stroke-width="8.5" stroke-linejoin="round"/>
<polyline points="1393,775.4 1388,794.5 1382,815 1379,817.5" fill="none" stroke="#ffffff" stroke-width="8.5" stroke-linejoin="round"/>
<polyline points="1348,817.5 1381.5,817.5" fill="none" stroke="#ffffff" stroke-width="8.5" stroke-linejoin="round"/>
<polyline points="1330.8,818 1342.7,818" fill="none" stroke="#ffffff" stroke-width="8.5" stroke-linejoin="round"/>
<polyline points="1349,798.4 1342,816.7" fill="none" stroke="#ffffff" stroke-width="8.5" stroke-linejoin="round"/>
<polyline points="1339.5,797.6 1349,797.6" fill="none" stroke="#ffffff" stroke-width="8.5" stroke-linejoin="round"/>
<polyline points="1358.5,800.4 1376.8,800.4" fill="none" stroke="#ffffff" stroke-width="8.5" stroke-linejoin="round"/>
<polyline points="1359,801 1357,810" fill="none" stroke="#ffffff" stroke-width="8.5" stroke-linejoin="round"/>
<polyline points="1372.8,785 1378.3,793" fill="none" stroke="#ffffff" stroke-width="8.5" stroke-linejoin="round"/>
<polyline points="1370.4,802.4 1373.5,810.3" fill="none" stroke="#ffffff" stroke-width="8.5" stroke-linejoin="round"/>
<polyline points="1342.7,764 1341.5,772" fill="none" stroke="#ffffff" stroke-width="8.5" stroke-linejoin="round"/>
<polyline points="1405,772.6 1442.3,772.6" fill="none" stroke="#ffffff" stroke-width="8.5" stroke-linejoin="round"/>
<polyline points="1411.4,774.8 1408.6,785.5" fill="none" stroke="#ffffff" stroke-width="8.5" stroke-linejoin="round"/>
<polyline points="1399.5,794 1438.4,794" fill="none" stroke="#ffffff" stroke-width="8.5" stroke-linejoin="round"/>
<polyline points="1394,809.5 1433.6,809.5 1435.6,802.6" fill="none" stroke="#ffffff" stroke-width="8.5" stroke-linejoin="round"/>
<polyline points="1453.4,769.3 1441.5,815.5 1439,818.4 1420,818.4" fill="none" stroke="#ffffff" stroke-width="8.5" stroke-linejoin="round"/>
<polyline points="1453.2,767.7 1450,788.3" fill="none" stroke="#ffffff" stroke-width="8.5" stroke-linejoin="round"/>
<polyline points="1468.2,774.8 1461.1,802.6 1455,817" fill="none" stroke="#ffffff" stroke-width="8.5" stroke-linejoin="round"/>
<polyline points="1488.9,768.5 1472.2,804.2 1469,815.3" fill="none" stroke="#ffffff" stroke-width="8.5" stroke-linejoin="round"/>
<polyline points="1502.3,778 1485.7,815.3" fill="none" stroke="#ffffff" stroke-width="8.5" stroke-linejoin="round"/>
<polyline points="1516.6,768.5 1512.6,778 1505.5,815.3" fill="none" stroke="#ffffff" stroke-width="8.5" stroke-linejoin="round"/>
<polyline points="1467.4,774.4 1478.5,774.4" fill="none" stroke="#ffffff" stroke-width="8.5" stroke-linejoin="round"/>
<polyline points="1489.6,778 1502.3,778" fill="none" stroke="#ffffff" stroke-width="8.5" stroke-linejoin="round"/>
<polyline points="1454.8,817.6 1462.7,817.6" fill="none" stroke="#ffffff" stroke-width="8.5" stroke-linejoin="round"/>
<polyline points="1469,817.3 1476,817.3" fill="none" stroke="#ffffff" stroke-width="8.5" stroke-linejoin="round"/>
<polyline points="1487,817 1500.8,817" fill="none" stroke="#ffffff" stroke-width="8.5" stroke-linejoin="round"/>
<polyline points="1546.8,773 1559.5,773" fill="none" stroke="#ffffff" stroke-width="8.5" stroke-linejoin="round"/>
<polyline points="1541,761.8 1533.5,769.3" fill="none" stroke="#ffffff" stroke-width="8.5" stroke-linejoin="round"/>
<polyline points="1576.2,766 1565,781.2" fill="none" stroke="#ffffff" stroke-width="8.5" stroke-linejoin="round"/>
<polyline points="1548.4,791.5 1569.8,791.5" fill="none" stroke="#ffffff" stroke-width="8.5" stroke-linejoin="round"/>
<polyline points="1540.5,766.9 1529.4,780.4" fill="none" stroke="#ffffff" stroke-width="8.5" stroke-linejoin="round"/>
<polyline points="1542.9,779.6 1530.2,793.1" fill="none" stroke="#ffffff" stroke-width="8.5" stroke-linejoin="round"/>
<polyline points="1515.9,774.8 1508.8,793.1 1504,822" fill="none" stroke="#ffffff" stroke-width="8.5" stroke-linejoin="round"/>
<polyline points="1515.9,806 1534.1,806" fill="none" stroke="#ffffff" stroke-width="8.5" stroke-linejoin="round"/>
<polyline points="1554.8,806 1565.9,806 1567.5,796" fill="none" stroke="#ffffff" stroke-width="8.5" stroke-linejoin="round"/>
<polyline points="1535.7,799.4 1531.8,815.3" fill="none" stroke="#ffffff" stroke-width="8.5" stroke-linejoin="round"/>
<polyline points="1512,818 1561,818 1564,810" fill="none" stroke="#ffffff" stroke-width="8.5" stroke-linejoin="round"/>
</g>
<path d="M1439,765.5 H1541 L1540,774.5 H1439 Z" fill="#ffffff" fill-opacity="0.5"/>
<path d="M1340,788 H1390 L1388.5,798 H1338.5 Z" fill="#ffffff" fill-opacity="0.7"/>
<path d="M1442,788 H1455 L1453,798 H1440 Z" fill="#ffffff" fill-opacity="0.7"/>
<path d="M1463.5,775.2 H1469 L1466,792.6 H1462 Z" fill="#ffffff" fill-opacity="0.55"/>
<path d="M1504.6,775.2 H1514 L1510,792.6 H1504.6 Z" fill="#ffffff" fill-opacity="0.55"/>
<path d="M1532,775.2 H1547 V792.6 H1525 Z" fill="#ffffff" fill-opacity="0.5"/>
<g opacity="0.7" filter="url(#wb)">
<polyline points="1344,780 1354.6,780 1356,775" fill="none" stroke="#3a3a3a" stroke-width="2" stroke-linejoin="round"/>
<polyline points="1364,774.3 1394,774.3 1396.5,768" fill="none" stroke="#3a3a3a" stroke-width="2" stroke-linejoin="round"/>
<polyline points="1349.8,781.8 1347.6,791.3" fill="none" stroke="#3a3a3a" stroke-width="2" stroke-linejoin="round"/>
<polyline points="1363,784.6 1380.7,784.6" fill="none" stroke="#3a3a3a" stroke-width="2" stroke-linejoin="round"/>
<polyline points="1365,784 1361.7,793" fill="none" stroke="#3a3a3a" stroke-width="2" stroke-linejoin="round"/>
<polyline points="1393,775.4 1388,794.5 1382,815 1379,817.5" fill="none" stroke="#3a3a3a" stroke-width="2" stroke-linejoin="round"/>
<polyline points="1348,817.5 1381.5,817.5" fill="none" stroke="#3a3a3a" stroke-width="2" stroke-linejoin="round"/>
<polyline points="1330.8,818 1342.7,818" fill="none" stroke="#3a3a3a" stroke-width="2" stroke-linejoin="round"/>
<polyline points="1349,798.4 1342,816.7" fill="none" stroke="#3a3a3a" stroke-width="2" stroke-linejoin="round"/>
<polyline points="1339.5,797.6 1349,797.6" fill="none" stroke="#3a3a3a" stroke-width="2" stroke-linejoin="round"/>
<polyline points="1358.5,800.4 1376.8,800.4" fill="none" stroke="#3a3a3a" stroke-width="2" stroke-linejoin="round"/>
<polyline points="1359,801 1357,810" fill="none" stroke="#3a3a3a" stroke-width="2" stroke-linejoin="round"/>
<polyline points="1372.8,785 1378.3,793" fill="none" stroke="#3a3a3a" stroke-width="2" stroke-linejoin="round"/>
<polyline points="1370.4,802.4 1373.5,810.3" fill="none" stroke="#3a3a3a" stroke-width="2" stroke-linejoin="round"/>
<polyline points="1342.7,764 1341.5,772" fill="none" stroke="#3a3a3a" stroke-width="2" stroke-linejoin="round"/>
<polyline points="1405,772.6 1442.3,772.6" fill="none" stroke="#3a3a3a" stroke-width="2" stroke-linejoin="round"/>
<polyline points="1411.4,774.8 1408.6,785.5" fill="none" stroke="#3a3a3a" stroke-width="2" stroke-linejoin="round"/>
<polyline points="1399.5,794 1438.4,794" fill="none" stroke="#3a3a3a" stroke-width="2" stroke-linejoin="round"/>
<polyline points="1394,809.5 1433.6,809.5 1435.6,802.6" fill="none" stroke="#3a3a3a" stroke-width="2" stroke-linejoin="round"/>
<polyline points="1453.4,769.3 1441.5,815.5 1439,818.4 1420,818.4" fill="none" stroke="#3a3a3a" stroke-width="2" stroke-linejoin="round"/>
<polyline points="1453.2,767.7 1450,788.3" fill="none" stroke="#3a3a3a" stroke-width="2" stroke-linejoin="round"/>
<polyline points="1468.2,774.8 1461.1,802.6 1455,817" fill="none" stroke="#3a3a3a" stroke-width="2" stroke-linejoin="round"/>
<polyline points="1488.9,768.5 1472.2,804.2 1469,815.3" fill="none" stroke="#3a3a3a" stroke-width="2" stroke-linejoin="round"/>
<polyline points="1502.3,778 1485.7,815.3" fill="none" stroke="#3a3a3a" stroke-width="2" stroke-linejoin="round"/>
<polyline points="1516.6,768.5 1512.6,778 1505.5,815.3" fill="none" stroke="#3a3a3a" stroke-width="2" stroke-linejoin="round"/>
<polyline points="1467.4,774.4 1478.5,774.4" fill="none" stroke="#3a3a3a" stroke-width="2" stroke-linejoin="round"/>
<polyline points="1489.6,778 1502.3,778" fill="none" stroke="#3a3a3a" stroke-width="2" stroke-linejoin="round"/>
<polyline points="1454.8,817.6 1462.7,817.6" fill="none" stroke="#3a3a3a" stroke-width="2" stroke-linejoin="round"/>
<polyline points="1469,817.3 1476,817.3" fill="none" stroke="#3a3a3a" stroke-width="2" stroke-linejoin="round"/>
<polyline points="1487,817 1500.8,817" fill="none" stroke="#3a3a3a" stroke-width="2" stroke-linejoin="round"/>
<polyline points="1546.8,773 1559.5,773" fill="none" stroke="#3a3a3a" stroke-width="2" stroke-linejoin="round"/>
<polyline points="1541,761.8 1533.5,769.3" fill="none" stroke="#3a3a3a" stroke-width="2" stroke-linejoin="round"/>
<polyline points="1576.2,766 1565,781.2" fill="none" stroke="#3a3a3a" stroke-width="2" stroke-linejoin="round"/>
<polyline points="1548.4,791.5 1569.8,791.5" fill="none" stroke="#3a3a3a" stroke-width="2" stroke-linejoin="round"/>
<polyline points="1540.5,766.9 1529.4,780.4" fill="none" stroke="#3a3a3a" stroke-width="2" stroke-linejoin="round"/>
<polyline points="1542.9,779.6 1530.2,793.1" fill="none" stroke="#3a3a3a" stroke-width="2" stroke-linejoin="round"/>
<polyline points="1515.9,774.8 1508.8,793.1 1504,822" fill="none" stroke="#3a3a3a" stroke-width="2" stroke-linejoin="round"/>
<polyline points="1515.9,806 1534.1,806" fill="none" stroke="#3a3a3a" stroke-width="2" stroke-linejoin="round"/>
<polyline points="1554.8,806 1565.9,806 1567.5,796" fill="none" stroke="#3a3a3a" stroke-width="2" stroke-linejoin="round"/>
<polyline points="1535.7,799.4 1531.8,815.3" fill="none" stroke="#3a3a3a" stroke-width="2" stroke-linejoin="round"/>
<polyline points="1512,818 1561,818 1564,810" fill="none" stroke="#3a3a3a" stroke-width="2" stroke-linejoin="round"/>
</g>
<text x="1353.9" y="852.8" font-size="31" fill="#8aa4f0" font-weight="bold" text-anchor="middle" textLength="18.4" lengthAdjust="spacingAndGlyphs" style="font-style:italic" stroke="#8aa4f0" stroke-width="1.6">z</text>
<text x="1379.7" y="852.8" font-size="31" fill="#8aa4f0" font-weight="bold" text-anchor="middle" textLength="19.3" lengthAdjust="spacingAndGlyphs" style="font-style:italic" stroke="#8aa4f0" stroke-width="1.6">z</text>
<text x="1405.8" y="852.8" font-size="31" fill="#8aa4f0" font-weight="bold" text-anchor="middle" textLength="16.0" lengthAdjust="spacingAndGlyphs" style="font-style:italic" stroke="#8aa4f0" stroke-width="1.6">r</text>
<text x="1427.9" y="852.8" font-size="31" fill="#8aa4f0" font-weight="bold" text-anchor="middle" textLength="17.6" lengthAdjust="spacingAndGlyphs" style="font-style:italic" stroke="#8aa4f0" stroke-width="1.6">t</text>
<text x="1455.8" y="852.8" font-size="31" fill="#8aa4f0" font-weight="bold" text-anchor="middle" textLength="20.9" lengthAdjust="spacingAndGlyphs" style="font-style:italic" stroke="#8aa4f0" stroke-width="1.6">0</text>
<text x="1484.3" y="852.8" font-size="31" fill="#8aa4f0" font-weight="bold" text-anchor="middle" textLength="12.7" lengthAdjust="spacingAndGlyphs" style="font-style:italic" stroke="#8aa4f0" stroke-width="1.6">1</text>
<text x="1505.6" y="852.8" font-size="31" fill="#8aa4f0" font-weight="bold" text-anchor="middle" textLength="6.2" lengthAdjust="spacingAndGlyphs" style="font-style:italic" stroke="#8aa4f0" stroke-width="1.6">.</text>
<text x="1529.3" y="852.8" font-size="31" fill="#8aa4f0" font-weight="bold" text-anchor="middle" textLength="17.6" lengthAdjust="spacingAndGlyphs" style="font-style:italic" stroke="#8aa4f0" stroke-width="1.6">c</text>
<text x="1556.2" y="852.8" font-size="31" fill="#8aa4f0" font-weight="bold" text-anchor="middle" textLength="19.3" lengthAdjust="spacingAndGlyphs" style="font-style:italic" stroke="#8aa4f0" stroke-width="1.6">n</text>
</svg></body></html>
